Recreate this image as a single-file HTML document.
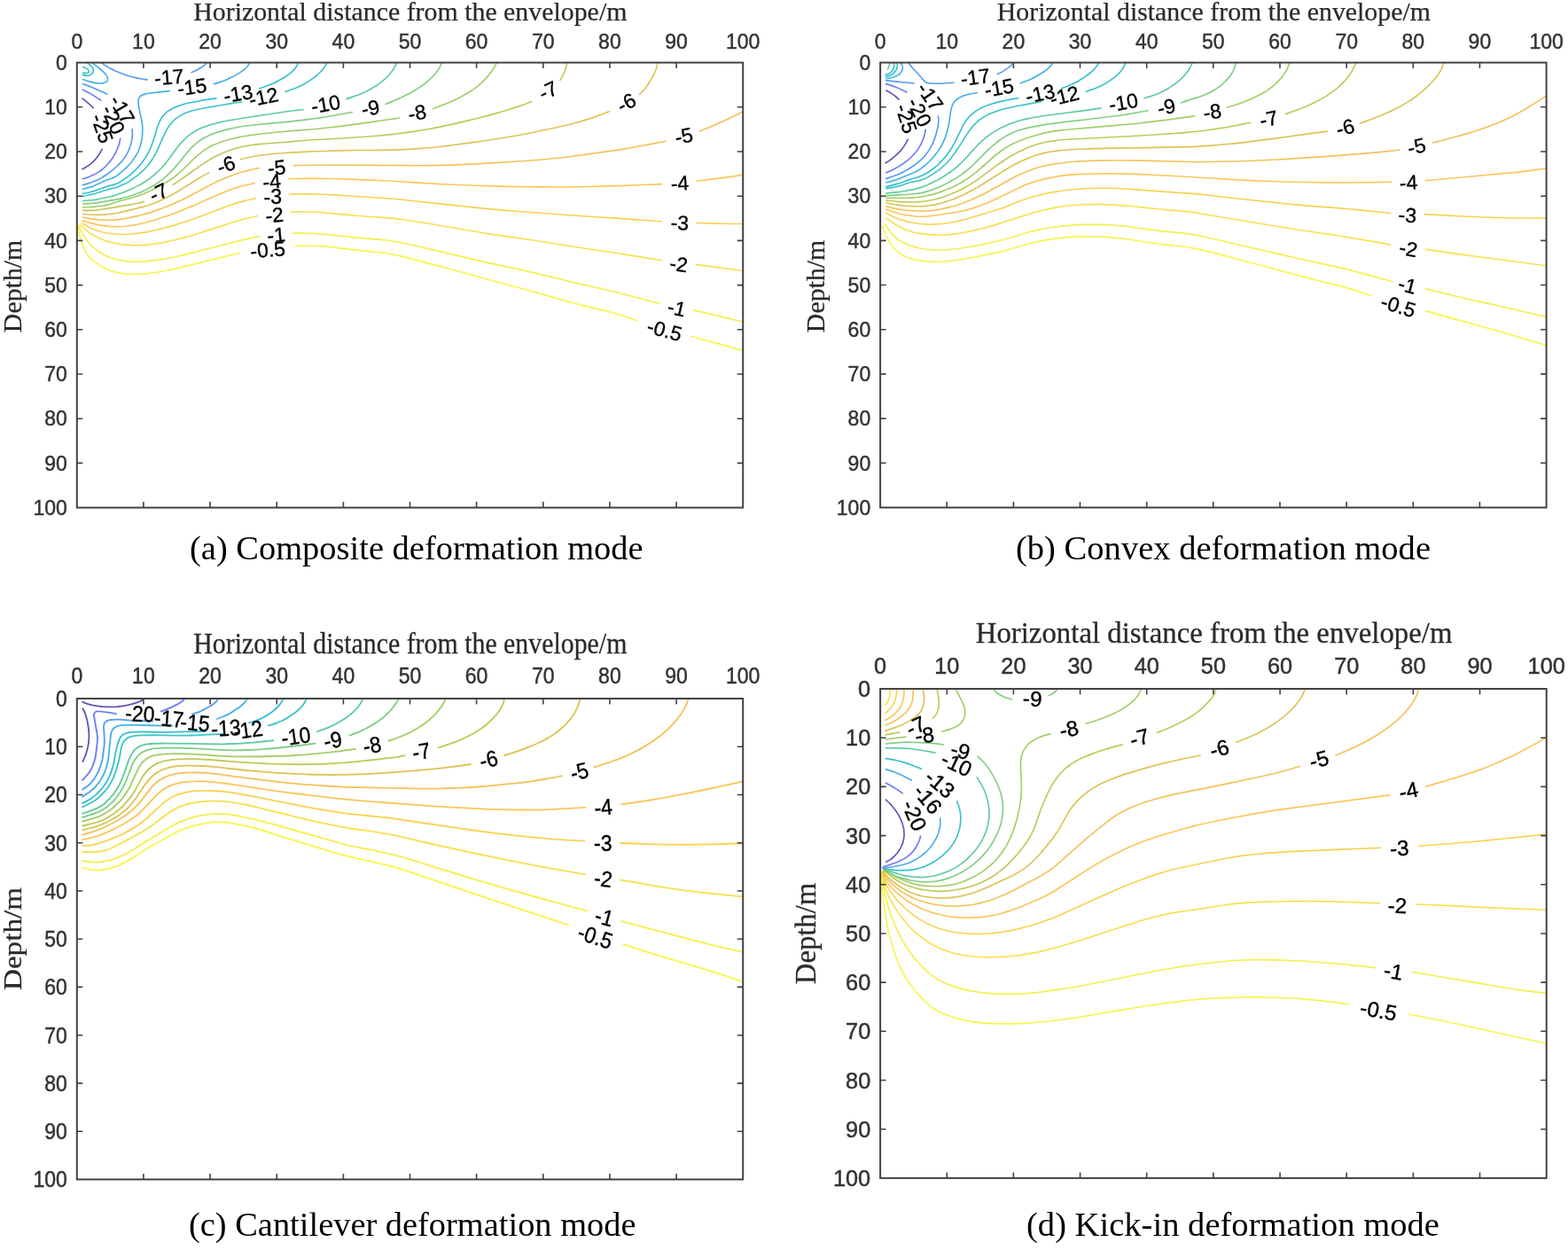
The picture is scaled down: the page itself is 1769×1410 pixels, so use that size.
<!DOCTYPE html>
<html lang="en"><head><meta charset="utf-8"><title>Ground settlement contours for four deformation modes</title>
<style>html,body{margin:0;padding:0;background:#fff}body{width:1769px;height:1410px;overflow:hidden}svg{display:block}text{white-space:pre}</style>
</head><body>
<svg xmlns="http://www.w3.org/2000/svg" width="1769" height="1410" viewBox="0 0 1769 1410">
<rect width="1769" height="1410" fill="#fff"/>
<clipPath id="clip-a"><rect x="86.8" y="70.6" width="751.4" height="502"/></clipPath>
<g clip-path="url(#clip-a)" fill="none" stroke-opacity="0.88" stroke-width="1.65" stroke-linecap="round" stroke-linejoin="round">
<path d="M92.9 111.2C93.8 111.9 96.3 113.7 98.4 115.4C100.4 117.2 104.2 120.7 105.4 121.8" stroke="#4b3cae"/>
<path d="M115.1 168.4C114.7 169.1 113.7 171.1 112.9 172.3C112.2 173.6 111.7 174.5 110.6 176C109.5 177.4 107.8 179.6 106.6 180.9C105.4 182.2 104.6 182.9 103.5 183.8C102.5 184.8 101.4 185.6 100.2 186.4C99 187.3 97.8 188 96.6 188.7C95.4 189.5 93.5 190.5 92.9 190.8" stroke="#4b3cae"/>
<path d="M93.4 101.1C95 101.9 99.5 104.1 102.9 106.1C106.3 108.1 111.9 111.9 113.7 113" stroke="#5a6af0"/>
<path d="M135.7 156C135.6 156.4 135.6 157.2 135.3 158.3C135.1 159.5 134.7 161.5 134.2 163C133.8 164.5 133.3 165.9 132.7 167.3C132.1 168.8 131.5 170.2 130.8 171.6C130.2 172.9 129.4 174.3 128.6 175.6C127.9 176.9 127 178.2 126.1 179.5C125.2 180.7 124.3 182 123.3 183.1C122.4 184.3 121.6 185.2 120.4 186.5C119.1 187.8 116.9 189.8 115.6 190.9C114.2 192.1 113.3 192.6 112.2 193.4C111 194.2 109.8 194.9 108.6 195.6C107.4 196.3 106.2 197 104.9 197.6C103.7 198.2 103.1 198.5 101.2 199.2C99.2 199.9 94.7 201.4 93.4 201.8" stroke="#5a6af0"/>
<path d="M93.4 94.6C95.4 95.4 101 97.2 105.5 99.2C110 101.1 118.1 104.9 120.6 106.1" stroke="#3f8eee"/>
<path d="M149.1 145.7C149.1 146.4 149.4 148.2 149.4 149.9C149.4 151.6 149.2 154 149 156C148.7 158.1 148.2 160.4 147.8 162.1C147.4 163.7 147 164.7 146.6 166.1C146.1 167.4 145.6 168.7 145 170C144.4 171.3 143.8 172.5 143.1 173.8C142.4 175 141.9 175.9 140.8 177.4C139.7 178.9 138.2 180.9 136.8 182.6C135.3 184.3 133.7 185.9 132.1 187.5C130.5 189 129 190.2 127 191.8C125 193.4 122.2 195.5 120.1 197C118.1 198.4 116.3 199.5 114.8 200.4C113.3 201.3 112.7 201.6 111.2 202.4C109.7 203.1 107.5 204 105.6 204.8C103.7 205.5 101.8 206.2 99.7 206.9C97.7 207.5 94.5 208.4 93.4 208.7" stroke="#3f8eee"/>
<path d="M114.1 70.6C115 71.2 117.7 73.2 119.6 74.4C121.4 75.5 123.3 76.5 125.1 77.5C126.9 78.5 128.5 79.2 130.6 80.2C132.8 81.1 135.6 82.3 138.1 83.2C140.6 84.1 143.6 85.1 145.9 85.8C148.2 86.5 149.9 86.9 151.9 87.4C153.9 87.9 155.6 88.3 158 88.7C160.4 89.2 164.9 89.8 166.3 90" stroke="#3f8eee"/>
<path d="M216.1 81.7C217.1 81.3 220.1 80.1 222 79.1C223.9 78.1 226.4 76.5 227.7 75.7C228.9 74.9 228.9 74.9 229.5 74.4C230.1 73.9 230.7 73.4 231.3 72.9C231.9 72.3 232.8 71.2 233.1 70.9" stroke="#3f8eee"/>
<path d="M104 70.9C105.3 71.9 109.9 75.3 112.1 77C114.2 78.8 115.6 80.1 117 81.4C118.3 82.7 119.4 84.1 120.1 85.1C120.8 86.1 121.1 86.6 121.3 87.4C121.5 88.2 121.7 89.2 121.6 90C121.4 90.7 120.9 91.5 120.3 92.1C119.7 92.6 118.8 93 118 93.3C117.1 93.6 116.2 93.8 115.3 93.9C114.4 94 113.6 94 112.7 94C111.9 94 111.5 94.1 110.2 93.9C109 93.8 106.9 93.5 105.2 93.1C103.6 92.8 102.3 92.4 100.3 91.8C98.4 91.2 94.6 89.9 93.4 89.5" stroke="#2ba6e0"/>
<path d="M191.2 102.6C187.4 103 172.9 104.7 168.4 105.3C164 105.8 165.9 105.6 164.6 105.9C163.3 106.2 161.7 106.7 160.8 107.1C159.8 107.4 159.6 107.6 159 108C158.5 108.4 158.1 108.8 157.7 109.2C157.3 109.7 156.9 110.2 156.7 110.8C156.4 111.4 156.3 112 156.1 112.7C156 113.4 156 114.2 156 114.9C156 115.7 156 116.1 156.1 117.3C156.3 118.5 156.2 119.1 156.9 122.2C157.5 125.3 159.2 132.7 159.8 136C160.5 139.4 160.5 140.3 160.7 142.4C160.8 144.5 160.9 146.5 160.8 148.7C160.7 151 160.4 153.9 160.2 155.9C159.9 157.8 159.7 158.9 159.3 160.4C159 161.8 158.8 162.8 158.3 164.4C157.8 166.1 156.8 168.7 156.1 170.3C155.4 171.8 154.9 172.7 154.2 174C153.5 175.2 152.7 176.4 151.9 177.6C151.1 178.9 150.2 180.1 149.3 181.4C148.4 182.6 147.4 183.9 146.4 185C145.4 186.2 144.4 187.3 143.3 188.3C142.3 189.3 141.8 189.8 140.2 191.2C138.6 192.6 135.4 195.5 133.7 196.9C132 198.2 131.3 198.6 130.1 199.3C128.9 200 128.4 200.2 126.5 201C124.6 201.7 122.3 202.3 118.8 203.7C115.3 205.2 108.5 208.5 105.7 209.7C102.8 210.9 103.7 210.4 101.6 211.1C99.6 211.7 94.8 213 93.4 213.4" stroke="#2ba6e0"/>
<path d="M241.2 94.8C242.5 94.4 246.7 93.2 249 92.4C251.2 91.7 252.9 91 254.8 90.2C256.7 89.4 258.4 88.7 260.5 87.6C262.7 86.5 265.8 84.8 267.9 83.6C270.1 82.3 271.9 81.2 273.3 80.1C274.8 79.1 275.6 78.4 276.7 77.4C277.7 76.5 278.9 75.1 279.6 74.3C280.3 73.5 280.4 73.2 280.8 72.6C281.1 72 281.5 71.2 281.6 70.9" stroke="#2ba6e0"/>
<path d="M98.5 70.9C99.1 71.4 101.4 73.3 102.3 74.1C103.2 75 103.5 75.2 103.9 75.8C104.4 76.5 104.9 77.1 105.1 77.8C105.3 78.5 105.5 79.3 105.3 80.2C105.1 81.1 104.6 82.3 103.9 83.1C103.2 84 102.1 84.7 101.1 85.1C100.1 85.5 99.2 85.5 97.9 85.3C96.6 85.2 94.2 84.6 93.4 84.4" stroke="#1ab6cc"/>
<path d="M93.8 75.7C94.2 75.8 95.4 76 96.2 76.4C97 76.7 97.9 77 98.6 77.6C99.2 78.2 100 79.1 100.2 79.8C100.4 80.5 100 81.5 99.7 81.9C99.3 82.4 99 82.5 98 82.5C97 82.6 94.5 82.2 93.8 82.1" stroke="#22bdbb"/>
<path d="M93.4 218.4C94.8 218.1 99.5 217.1 101.6 216.7C103.6 216.2 104.3 216 105.7 215.6C107 215.2 107.4 215.2 109.8 214.3C112.1 213.5 116.8 211.5 119.9 210.6C122.9 209.6 126 209 128 208.4C130.1 207.8 130.8 207.5 132.1 206.9C133.5 206.3 134.5 205.8 136.2 204.8C137.8 203.8 140.1 202.3 142 200.9C143.9 199.6 145.8 198.1 147.5 196.6C149.3 195.1 151 193.5 152.7 191.9C154.3 190.3 156.1 188.3 157.4 186.8C158.6 185.4 159.1 184.8 160.2 183.3C161.4 181.8 163.1 179.3 164.2 177.7C165.2 176.2 165.7 175.2 166.5 173.9C167.2 172.5 167.8 171.6 168.6 169.8C169.3 168.1 170.4 165.7 171.2 163.6C172 161.5 172.3 160.7 173.4 157.1C174.6 153.6 176.8 145.7 178 142.3C179.2 138.8 179.7 137.9 180.4 136.4C181.2 134.8 182 133.6 182.5 132.8C183.1 131.9 183.1 131.9 183.7 131.1C184.4 130.3 185.5 129 186.5 128C187.5 127.1 188.5 126.2 189.6 125.4C190.7 124.6 191.6 124 193.1 123.2C194.7 122.3 197.2 121.2 198.8 120.5C200.4 119.8 201 119.6 202.7 119C204.4 118.5 206.7 117.8 208.7 117.2C210.8 116.7 212.5 116.3 214.9 115.8C217.3 115.3 218.4 115 223.2 114.2C228 113.3 240.4 111.4 243.8 110.9" stroke="#1ab6cc"/>
<path d="M292.8 99.8C294.2 99.3 298.5 97.8 301.3 96.8C304 95.7 307.1 94.4 309.4 93.4C311.7 92.4 313 91.7 315.1 90.5C317.3 89.3 320.3 87.5 322.3 86.2C324.4 84.9 326 83.7 327.4 82.6C328.7 81.6 329.7 80.6 330.4 79.9C331.2 79.2 331.2 79.2 331.9 78.4C332.5 77.5 333.8 75.9 334.4 75C335 74.1 335.2 73.7 335.5 73C335.8 72.3 336.2 71.2 336.3 70.9" stroke="#1ab6cc"/>
<path d="M93.4 221.2C94.8 221 99.1 220.2 101.5 219.7C103.9 219.2 104.6 219.2 107.7 218.3C110.7 217.3 116.2 215.3 119.9 214.2C123.7 213.1 127.8 212.3 130.2 211.7C132.7 211 132.7 210.9 134.4 210.3C136.1 209.6 138.5 208.5 140.4 207.6C142.4 206.6 144.2 205.5 146 204.4C147.8 203.3 149.5 202.2 151.1 200.9C152.8 199.7 154.5 198.5 156.1 197.2C157.7 195.8 159.3 194.4 160.8 192.9C162.4 191.5 163.9 189.9 165.4 188.3C166.8 186.6 168.4 184.6 169.5 183.1C170.6 181.7 171.2 180.8 172 179.5C172.8 178.3 173.3 177.4 174.2 175.7C175.1 174.1 175.7 173.2 177.3 169.8C178.9 166.4 182.1 158.7 183.7 155.3C185.2 151.9 185.7 150.9 186.5 149.3C187.3 147.7 187.9 146.8 188.6 145.5C189.3 144.3 190.1 143.1 190.9 141.9C191.7 140.7 192.6 139.6 193.5 138.6C194.5 137.5 195.4 136.5 196.5 135.5C197.5 134.6 198.6 133.7 199.7 132.9C200.8 132 202 131.3 203.2 130.6C204.4 129.9 205.3 129.4 206.9 128.6C208.4 127.9 211 126.9 212.6 126.3C214.3 125.7 214.9 125.5 216.6 125C218.3 124.6 219.6 124.1 222.6 123.5C225.7 122.8 226.6 122.5 235 121.1C243.4 119.6 266.6 115.8 272.9 114.8" stroke="#22bdbb"/>
<path d="M322 103.5C323.6 102.9 329.2 101.1 331.8 100.1C334.4 99.1 335.4 98.7 337.6 97.6C339.8 96.5 342.6 95.1 345 93.7C347.5 92.2 349.8 90.7 352.1 89.1C354.3 87.5 356.8 85.5 358.6 84C360.4 82.4 361.7 81.2 363 79.6C364.3 78.1 365.7 76.2 366.7 74.7C367.6 73.3 368.4 71.5 368.7 70.9" stroke="#22bdbb"/>
<path d="M93.4 226.7C95.1 226.6 100.8 226.1 103.5 225.8C106.3 225.5 106.3 225.6 109.9 224.9C113.4 224.2 121.4 222.4 125 221.6C128.6 220.7 129 220.6 131.5 219.8C134 219 137.2 217.9 140 216.8C142.8 215.7 145.6 214.5 148.2 213.3C150.9 212 153.8 210.6 156 209.4C158.2 208.2 159.4 207.5 161.5 206.2C163.6 204.9 166.4 203 168.4 201.6C170.4 200.2 171.7 199.1 173.3 197.8C174.9 196.4 176.5 195.1 178 193.7C179.5 192.2 181.2 190.5 182.4 189.2C183.6 187.9 184.1 187.4 185.3 186C186.4 184.6 186.7 184.5 189.3 181C192 177.4 198.7 168.1 201.2 164.8C203.6 161.6 202.8 162.8 204.1 161.4C205.3 160 207.4 157.9 208.7 156.6C210 155.3 210.5 154.8 212 153.7C213.4 152.5 215.4 151 217.3 149.8C219.1 148.6 221 147.5 222.9 146.5C224.8 145.5 226.8 144.7 228.8 143.8C230.8 143 232.8 142.2 234.9 141.5C236.9 140.9 238.6 140.3 241 139.7C243.4 139 246.5 138.2 249.3 137.6C252 137 253.4 136.7 257.5 136C261.7 135.3 264.3 134.8 274.2 133.3C284.1 131.8 307.2 128.3 317.1 126.8C327 125.4 329.5 125 333.7 124.5C337.8 124 340.5 123.8 341.9 123.7" stroke="#46c590"/>
<path d="M391 111.6C392.6 111.1 397.5 109.5 400.7 108.3C403.9 107.1 407.8 105.5 410.3 104.4C412.9 103.2 414.4 102.4 416 101.6C417.6 100.8 417.9 100.7 419.7 99.5C421.6 98.4 424.6 96.6 426.9 95C429.2 93.3 432 91 433.6 89.6C435.2 88.3 435.7 87.7 436.7 86.7C437.7 85.7 438.7 84.6 439.7 83.5C440.6 82.5 441.5 81.3 442.4 80.2C443.2 79 443.9 78.2 444.7 76.6C445.6 75.1 447.1 71.9 447.6 70.9" stroke="#46c590"/>
<path d="M93.4 230C95.1 229.9 100.7 229.6 103.4 229.4C106.2 229.1 105.5 229.3 109.8 228.6C114.1 228 124.6 226.2 129.3 225.4C134 224.5 135.2 224.2 138.1 223.5C140.9 222.8 143.8 222.1 146.6 221.2C149.3 220.3 152.4 219.2 154.8 218.3C157.2 217.4 158.6 216.8 160.9 215.7C163.2 214.7 166.4 213 168.7 211.8C170.9 210.7 172.2 209.9 174.3 208.6C176.4 207.3 179.3 205.3 181.3 203.9C183.3 202.4 184.6 201.3 186.2 200C187.8 198.6 188.9 197.8 190.8 195.8C192.8 193.8 194.3 192.5 198.1 188.1C201.8 183.8 210 173.5 213.3 169.6C216.6 165.8 216.5 166.2 217.8 164.9C219.1 163.7 219.6 163.2 221 162.1C222.3 161 224.2 159.4 225.9 158.2C227.6 157.1 229.3 156 231.1 155C232.9 154 234.7 153.2 236.5 152.4C238.3 151.6 239.8 151 242 150.3C244.2 149.5 246.7 148.7 249.6 147.9C252.5 147.1 256.3 146.1 259.3 145.4C262.2 144.7 264.6 144.2 267.3 143.7C270 143.1 272.1 142.7 275.5 142.3C279 141.8 279.5 141.6 288.1 140.7C296.8 139.8 318 138 327.7 137.1C337.4 136.1 339.2 135.8 346.4 134.9C353.6 133.9 362.6 132.7 371.1 131.3C379.6 129.9 392.9 127.3 397.3 126.5" stroke="#70c871"/>
<path d="M435.2 117.5C437.5 116.5 444.9 113.5 448.8 111.8C452.7 110 455.4 108.7 458.7 107C461.9 105.3 465.7 103.2 468.3 101.8C470.8 100.3 472.2 99.3 473.7 98.4C475.2 97.4 475.7 97 477.1 95.9C478.5 94.9 480.7 93.2 482 92.1C483.4 91 483.6 90.8 485.1 89.4C486.6 88 489.4 85 490.8 83.5C492.1 82 492.5 81.4 493.3 80.3C494.1 79.2 494.7 78.4 495.6 76.8C496.5 75.2 498.1 71.9 498.6 70.9" stroke="#70c871"/>
<path d="M93.4 233.7C94.7 233.7 99 233.6 101.4 233.5C103.7 233.4 105.1 233.4 107.6 233.1C110.1 232.9 113.9 232.4 116.3 232.1C118.8 231.7 119.7 231.7 122.5 230.9C125.4 230.1 129.6 228.4 133.5 227.3C137.4 226.1 142.3 225 145.7 224C149.1 223.1 151.2 222.4 154 221.5C156.7 220.6 159.4 219.5 162 218.5C164.7 217.4 167.4 216.2 170 215C172.6 213.8 175.2 212.5 177.7 211.2C180.2 209.8 182.7 208.5 185.1 207.1C187.5 205.7 190.2 204 192.2 202.7C194.2 201.4 195.8 200.2 197.2 199.1C198.6 198.1 199.1 197.6 200.5 196.5C201.8 195.4 202.3 195 205.2 192.3C208.1 189.5 214.9 182.8 217.9 179.9C220.8 177.1 221.1 176.9 222.8 175.5C224.4 174 226.4 172.4 227.8 171.3C229.3 170.2 229.8 169.8 231.3 168.8C232.8 167.9 234.9 166.6 236.8 165.5C238.7 164.5 240.6 163.6 242.5 162.8C244.5 161.9 246.4 161.2 248.5 160.4C250.5 159.7 252.5 159.1 254.6 158.5C256.7 157.9 258.4 157.4 260.9 156.8C263.4 156.2 266.6 155.5 269.5 154.9C272.3 154.3 274.9 153.8 278.2 153.3C281.4 152.8 283.7 152.3 289.1 151.7C294.6 151 300 150.2 310.8 149.2C321.6 148.2 342.8 146.7 353.8 145.7C364.8 144.7 370 144.1 376.7 143.3C383.4 142.5 383.1 142.6 394 141.1C405 139.6 433 135.7 442.3 134.3C451.7 132.9 448.9 132.9 450.2 132.6" stroke="#95c753"/>
<path d="M488.8 122.4C491.1 121.5 498.4 118.9 502.7 117.2C507 115.5 511.6 113.4 514.5 112C517.5 110.7 518.4 110.1 520.3 109.1C522.2 108.1 524.1 107.1 526 106C527.9 104.9 530 103.5 531.5 102.5C533 101.6 533.6 101.2 535.1 100.1C536.5 99 538.8 97.2 540.2 96.1C541.5 94.9 542.1 94.4 543.4 93.2C544.7 92 546.7 90 548 88.7C549.2 87.4 549.9 86.5 550.9 85.4C551.8 84.3 552.7 83.2 553.5 82.1C554.4 80.9 554.9 80.4 556 78.5C557.1 76.7 559.6 72.2 560.3 70.9" stroke="#95c753"/>
<path d="M93.4 237.3C95 237.3 100.2 237.5 103.2 237.4C106.2 237.3 104.2 237.8 111.5 236.7C118.7 235.6 139.4 232.2 146.7 230.9C154.1 229.7 152.7 229.8 155.3 229.2C157.9 228.7 161.1 227.9 162.3 227.6" stroke="#b6c241"/>
<path d="M195.2 208.4C196.4 207.6 197.1 207.4 202.5 203.6C207.9 199.9 222.1 189.6 227.5 185.9C232.9 182.2 232.6 182.6 234.7 181.3C236.8 179.9 238.1 179.2 240.2 178C242.4 176.9 245.2 175.4 247.7 174.2C250.2 173 252.7 171.9 255.3 170.9C257.8 169.9 260.3 169 262.9 168.2C265.4 167.4 268.3 166.6 270.6 166.1C272.9 165.5 274.6 165.2 276.6 164.8C278.6 164.5 279.6 164.3 282.8 163.8C285.9 163.4 288.8 163 295.5 162.4C302.2 161.8 314.1 161.1 323.1 160.3C332 159.6 337.9 158.7 349 158C360.1 157.2 377.2 156.5 389.9 155.7C402.6 154.9 415.7 154 425.3 153.2C434.9 152.4 440 151.8 447.5 151C454.9 150.1 463.8 148.8 469.9 147.9C476 147 478.7 146.5 484.1 145.5C489.4 144.5 495.4 143.3 502.1 141.9C508.8 140.4 517.4 138.5 524.2 136.9C530.9 135.4 536.6 134 542.3 132.5C548.1 131 553.6 129.5 558.6 128.1C563.7 126.7 568.1 125.4 572.7 124C577.4 122.6 582 121 586.6 119.5C591.1 117.9 597.8 115.3 600 114.5" stroke="#b6c241"/>
<path d="M631.8 90.6C632.4 89.6 634.2 86.5 635.3 84.4C636.3 82.3 637.4 79.3 638 77.9C638.6 76.4 638.5 76.8 638.8 75.6C639.1 74.5 639.6 71.7 639.8 70.9" stroke="#b6c241"/>
<path d="M93.4 241.5C95.1 241.6 100.7 242.1 103.4 242.2C106.1 242.3 107.2 242.4 109.5 242.3C111.9 242.3 115 242.3 117.7 242.1C120.5 242 123.3 241.7 126.1 241.3C128.8 241 129.9 240.8 134.3 239.8C138.7 238.9 148.1 236.7 152.5 235.6C156.8 234.6 158.2 234.2 160.5 233.6C162.9 232.9 164.6 232.4 166.6 231.8C168.6 231.1 170.7 230.4 172.7 229.7C174.7 228.9 176.7 228.1 178.6 227.3C180.6 226.4 182.2 225.7 184.4 224.6C186.6 223.6 189.1 222.3 191.8 220.9C194.6 219.4 195.5 219 200.9 215.7C206.2 212.4 218.4 204.8 224.2 201.3C230 197.7 233.8 195.7 235.7 194.6" stroke="#d6bc3c"/>
<path d="M271.5 179.8C273.5 179.3 280 177.7 283.8 177C287.5 176.2 290.2 175.8 293.9 175.2C297.7 174.7 302.2 174.1 306.4 173.7C310.5 173.3 312.1 173.1 318.9 172.7C325.7 172.2 338.3 171.5 347.2 171.1C356.1 170.7 363.3 170.4 372.2 170.2C381 169.9 389.7 169.7 400.3 169.5C410.9 169.4 426.6 169.5 435.5 169.4C444.4 169.2 448.4 169 453.9 168.8C459.4 168.5 463.6 168.3 468.5 167.9C473.4 167.6 478.7 167.2 483.2 166.8C487.8 166.4 491.2 166 495.7 165.5C500.2 165 501.6 164.9 510.2 163.8C518.8 162.6 537 160.2 547.3 158.7C557.6 157.2 564.2 156.2 572 154.8C579.9 153.5 585.7 152.4 594.4 150.7C603.1 149 616.3 146.2 624.3 144.5C632.2 142.8 636.9 141.8 642.2 140.5C647.5 139.2 651.3 138.2 655.9 136.8C660.5 135.5 664.4 134.2 669.7 132.4C674.9 130.5 684.4 126.9 687.4 125.8" stroke="#d6bc3c"/>
<path d="M721.5 106.5C722.2 105.7 724.7 103.2 725.9 101.9C727.1 100.6 727.8 99.8 728.7 98.7C729.5 97.6 730 97 731.2 95.2C732.3 93.4 734.5 89.6 735.6 87.8C736.7 85.9 737.1 85.2 737.7 83.9C738.4 82.6 739 81.2 739.5 79.8C740.1 78.4 740.6 77 741 75.5C741.3 74 741.7 71.7 741.9 70.9" stroke="#d6bc3c"/>
<path d="M93.4 245.2C95.1 245.5 100.4 246.4 103.4 246.9C106.4 247.3 108.8 247.6 111.6 247.8C114.3 248.1 117.1 248.2 119.8 248.3C122.6 248.4 125.3 248.3 128 248.2C130.7 248 133.4 247.8 136.1 247.4C138.8 247 141.3 246.6 144.4 246C147.6 245.4 151.5 244.5 155 243.6C158.6 242.8 162.4 241.7 165.5 240.9C168.6 240 170.9 239.3 173.6 238.4C176.3 237.5 178.9 236.5 181.6 235.5C184.3 234.5 187 233.5 189.7 232.4C192.4 231.2 194.1 230.6 197.7 228.9C201.3 227.2 204.4 225.9 211.2 222.4C218 218.9 232.4 211.2 238.5 208C244.6 204.9 245 204.9 247.8 203.6C250.7 202.3 252.6 201.5 255.6 200.3C258.6 199.1 262.2 197.7 265.6 196.5C269 195.4 273.1 194.1 275.8 193.3C278.6 192.5 279.3 192.3 282.1 191.6C284.9 191 290.9 189.9 292.7 189.5" stroke="#f0b942"/>
<path d="M331.4 186.6C338 186.5 347.3 186.2 370.9 186.2C394.4 186.3 453 186.6 472.7 186.7C492.5 186.7 483.6 186.7 489.5 186.6C495.4 186.5 501.6 186.3 508.1 186.1C514.6 185.9 518.4 185.9 528.7 185.4C539.1 184.8 558.3 183.7 570 183C581.7 182.3 591.3 181.6 598.9 181C606.5 180.5 609.9 180.2 615.4 179.7C620.9 179.2 626.1 178.7 631.9 178C637.8 177.3 642.2 176.8 650.5 175.7C658.8 174.6 672.3 172.8 681.7 171.4C691 170.1 699.3 168.8 706.5 167.6C713.7 166.4 717.5 165.7 724.9 164.3C732.3 162.9 746.7 160.1 751 159.2" stroke="#f0b942"/>
<path d="M789.6 148.1C791.6 147.3 798 144.7 801.7 143.1C805.5 141.5 807.9 140.4 811.9 138.6C816 136.8 821.4 134.3 826 132.1C830.6 129.9 837.3 126.5 839.5 125.4" stroke="#f0b942"/>
<path d="M92.9 248.9C94.7 249.4 100.7 251.1 103.5 251.9C106.4 252.7 107.9 253 110.1 253.4C112.3 253.9 114.3 254.3 116.9 254.6C119.6 255 123.4 255.4 126 255.6C128.6 255.7 130.2 255.8 132.7 255.7C135.3 255.6 138.4 255.4 141.2 255.2C144.1 254.9 146.8 254.5 149.6 254.1C152.4 253.6 155.1 253.1 157.9 252.5C160.6 251.9 163 251.3 166.1 250.5C169.2 249.6 172.7 248.7 176.4 247.5C180.1 246.4 184.9 244.8 188.6 243.5C192.3 242.3 194.2 241.6 198.5 240C202.8 238.3 206 237.1 214.3 233.6C222.6 230 240.1 222.1 248.1 218.8C256 215.4 257.9 214.8 261.9 213.3C265.9 211.9 267.9 211.2 272.1 210.1C276.3 208.9 284.7 207.1 287.2 206.5" stroke="#f9be42"/>
<path d="M325.8 201.8C328.5 201.7 336.7 201.5 341.8 201.4C346.8 201.3 350.9 201.3 356.1 201.3C361.2 201.3 366.7 201.4 372.7 201.5C378.6 201.6 382.1 201.7 391.9 202.1C401.7 202.4 416.6 203 431.4 203.8C446.3 204.5 467.6 206 480.8 206.8C493.9 207.5 497.7 207.7 510.2 208.3C522.6 208.8 541.8 209.5 555.6 209.9C569.3 210.4 580.7 210.6 592.7 210.8C604.7 210.9 615.7 211 627.8 211C639.8 210.9 652.2 210.8 665 210.5C677.8 210.2 691.1 209.8 704.7 209.4C718.3 208.9 739.5 207.9 746.5 207.6" stroke="#f9be42"/>
<path d="M786.2 204.2C791 203.6 806 201.8 814.9 200.6C823.8 199.4 835.4 197.7 839.5 197.1" stroke="#f9be42"/>
<path d="M92.5 252.1C93.9 252.8 98.4 255.3 100.8 256.4C103.2 257.6 104.5 258.1 106.9 259C109.2 259.9 112.5 261 115 261.7C117.4 262.3 118.9 262.6 121.4 263C123.9 263.4 127.3 263.8 130.2 264C133.1 264.2 135.9 264.3 138.7 264.3C141.5 264.3 143.9 264.3 147 264C150.2 263.8 154.3 263.3 157.4 262.9C160.5 262.5 162.5 262.2 165.6 261.6C168.6 261 172.4 260.3 175.8 259.5C179.2 258.7 182.7 257.9 186.1 257C189.5 256.1 192.6 255.2 196.3 254.1C200 253 204.4 251.6 208.4 250.3C212.5 249 213.5 248.8 220.6 246.2C227.7 243.6 244 237.3 251.1 234.6C258.2 231.9 259.2 231.6 263.3 230.3C267.4 228.9 271.5 227.7 275.7 226.6C279.9 225.4 286.4 224.1 288.5 223.6" stroke="#f8cc3b"/>
<path d="M326.4 219.3C327.8 219.2 332.1 219 334.9 218.9C337.7 218.8 338.6 218.8 343.1 218.8C347.6 218.9 356.3 219 361.8 219.2C367.4 219.4 364.6 219.2 376.5 219.9C388.4 220.7 419.9 222.6 433.2 223.5C446.4 224.4 440.1 223.9 456 225.5C471.9 227.2 510.1 231.5 528.7 233.4C547.4 235.4 548.3 235.5 567.9 237.1C587.6 238.7 624.6 241.5 646.4 243C668.1 244.6 681.9 245.3 698.6 246.4C715.2 247.6 738.5 249.2 746.5 249.8" stroke="#f8cc3b"/>
<path d="M786.2 251.4C791 251.5 806 252.1 814.9 252.2C823.8 252.4 835.4 252.5 839.5 252.5" stroke="#f8cc3b"/>
<path d="M90.1 253.5C91.2 254.5 95.1 258 96.8 259.4C98.5 260.8 99.1 261.2 100.2 262.1C101.4 262.9 102.6 263.7 103.8 264.5C105 265.3 106.3 266 107.6 266.6C108.8 267.3 109.4 267.7 111.4 268.5C113.4 269.3 117.4 270.9 119.4 271.6C121.4 272.3 121.7 272.4 123.4 272.9C125 273.3 127.6 274 129.2 274.3C130.9 274.7 131.6 274.8 133.2 275.1C134.9 275.4 136.6 275.7 139.3 276C142 276.2 146.1 276.6 149.6 276.7C153 276.8 156.9 276.7 159.9 276.6C163 276.4 165.1 276.2 168.2 275.9C171.3 275.6 175 275.1 178.4 274.5C181.8 274 184.9 273.4 188.7 272.6C192.4 271.8 197.2 270.7 201 269.8C204.7 268.9 207.4 268.1 211.2 267.1C214.9 266.1 215.6 266 223.3 263.5C230.9 261.1 249.7 254.9 257 252.6C264.3 250.2 263.8 250.4 267.2 249.4C270.6 248.4 273.7 247.5 277.6 246.5C281.4 245.6 288.2 244 290.3 243.5" stroke="#f5dd36"/>
<path d="M328.2 239.2C329.6 239.2 334 239 336.8 238.9C339.7 238.9 340.8 238.8 345.4 239C350 239.1 354.2 239.1 364.2 239.8C374.2 240.6 393.6 242.5 405.5 243.5C417.4 244.5 427.8 245 435.4 245.6C443.1 246.2 446.3 246.7 451.3 247.3C456.3 247.9 458.6 248.3 465.2 249.3C471.9 250.4 480.4 251.6 491.3 253.5C502.2 255.3 520.9 258.7 530.8 260.3C540.7 262 538.5 261.8 550.5 263.6C562.6 265.4 585.7 268.6 603 271.3C620.4 273.9 639.4 277.1 654.6 279.5C669.9 281.8 679.1 282.9 694.4 285.3C709.7 287.7 737.8 292.4 746.5 293.8" stroke="#f5dd36"/>
<path d="M785.1 298.4L839.5 305.6" stroke="#f5dd36"/>
<path d="M88.8 254.9C89.3 255.9 90.9 259.3 91.7 260.9C92.6 262.6 93.1 263.5 93.8 264.8C94.6 266 95.3 267.2 96.1 268.4C96.9 269.6 97.5 270.5 98.6 271.8C99.7 273.2 101.5 275.3 102.7 276.6C103.9 277.9 104.6 278.6 105.7 279.5C106.7 280.4 107.7 281.3 108.8 282.1C109.9 283 111 283.8 112.2 284.5C113.4 285.3 114.6 286 115.8 286.6C117 287.3 118.2 287.9 119.5 288.5C120.8 289.1 121.7 289.5 123.3 290.1C124.9 290.6 127.5 291.5 129.1 292C130.8 292.4 131.5 292.6 133.2 293C134.9 293.3 137.2 293.8 139.3 294.1C141.3 294.4 143.7 294.6 145.4 294.8C147.2 295 147.5 295.1 149.6 295.1C151.7 295.2 154.8 295.3 157.9 295.2C161 295 164.4 294.8 168.2 294.4C171.9 294 176.4 293.5 180.5 292.9C184.6 292.2 189 291.4 192.8 290.7C196.5 290 199.3 289.4 203 288.5C206.8 287.7 204 288.5 215.3 285.6C226.6 282.8 257.9 274.6 270.8 271.4C283.7 268.2 289.1 267.3 292.8 266.5" stroke="#f4ec33"/>
<path d="M330.7 263.2C332.1 263.2 336.7 263 339.1 262.9C341.6 262.9 342.6 262.9 345.4 263C348.2 263 352.3 263.2 355.8 263.4C359.3 263.6 358 263.4 366.2 264.2C374.5 265 394.3 267.3 405.5 268.4C416.7 269.5 427.4 270.2 433.4 270.8C439.4 271.3 438.4 271.3 441.4 271.8C444.4 272.2 447.7 272.8 451.3 273.5C454.9 274.2 456.2 274.4 463.2 276C470.2 277.6 480 279.8 493.3 282.9C506.5 286 524.5 290.4 542.6 294.6C560.7 298.7 584.8 303.6 601.9 307.6C619 311.5 630.4 314.6 645.3 318.1C660.2 321.7 674.9 324.6 691.4 328.7C707.9 332.8 735.4 340.2 744.2 342.5" stroke="#f4ec33"/>
<path d="M782.8 349.9L839.5 363.3" stroke="#f4ec33"/>
<path d="M87.8 255.8C88.3 257.9 89.7 265.1 90.7 268.6C91.6 272.1 92.6 274.8 93.3 276.8C94 278.8 94.3 279.4 94.9 280.6C95.5 281.9 96.1 283.2 96.8 284.4C97.5 285.6 98.5 287.1 99.1 287.9C99.7 288.8 99.7 288.8 100.4 289.6C101.1 290.4 102.1 291.5 103.4 292.6C104.7 293.7 106.6 295.1 108.3 296.4C110 297.6 111.9 298.8 113.7 299.9C115.6 301 117.7 302.2 119.3 303C120.8 303.8 121.8 304.2 123.1 304.7C124.3 305.2 125.6 305.7 126.9 306.1C128.2 306.5 129.2 306.8 130.8 307.1C132.5 307.5 135.1 308 136.7 308.2C138.4 308.5 139 308.6 140.7 308.8C142.3 308.9 144 309.2 146.7 309.3C149.4 309.4 153.4 309.4 156.8 309.3C160.2 309.2 163.2 309 167 308.5C170.8 308.1 175.6 307.4 179.4 306.8C183.2 306.1 186.4 305.5 189.8 304.8C193.1 304.1 186.2 305.9 199.8 302.6C213.3 299.3 259.1 288.1 271 285.2" stroke="#f6f530"/>
<path d="M333.2 277.3C334.9 277.3 340.5 277.2 343.7 277.2C346.8 277.2 348.8 277.2 352 277.3C355.1 277.4 358.8 277.6 362.3 277.8C365.7 278 365.3 277.8 372.6 278.6C379.9 279.4 396.3 281.5 406 282.6C415.7 283.6 425.2 284.4 430.7 285C436.2 285.7 435.9 285.7 438.9 286.2C442 286.8 444.9 287.3 448.9 288.2C452.9 289.1 452.6 288.9 462.9 291.6C473.3 294.3 494.5 299.9 511.1 304.3C527.6 308.8 548.2 314.6 562.4 318.5C576.5 322.3 582.8 323.8 595.9 327.5C609 331.1 630.9 337.5 641 340.3C651.2 343.1 648.8 342.4 656.8 344.4C664.7 346.3 681 350.1 688.7 352.1C696.4 354.1 697.8 354.7 702.9 356.3C708 357.9 716.5 360.9 719.2 361.8" stroke="#f6f530"/>
<path d="M780 379.5C785 380.8 800.4 384.9 810.2 387.6C819.9 390.2 833.8 394.2 838.5 395.5" stroke="#f6f530"/>
</g>
<g class="clab" font-family="'Liberation Sans', Arial, Helvetica, sans-serif" font-size="23" fill="#000" stroke="#000" stroke-width="0.35" text-anchor="middle">
<text transform="translate(190.7 86.8) rotate(-5) scale(1 1)" dy="0.36em">-17</text>
<text transform="translate(216.5 97.8) rotate(-8) scale(1 1)" dy="0.36em">-15</text>
<text transform="translate(268.6 105.4) rotate(-10) scale(1 1)" dy="0.36em">-13</text>
<text transform="translate(297.2 109.1) rotate(-12) scale(1 1)" dy="0.36em">-12</text>
<text transform="translate(367.4 117.2) rotate(-10) scale(1 1)" dy="0.36em">-10</text>
<text transform="translate(417.8 121.6) rotate(-10) scale(1 1)" dy="0.36em">-9</text>
<text transform="translate(470.6 127) rotate(-10) scale(1 1)" dy="0.36em">-8</text>
<text transform="translate(618.2 102) rotate(-25) scale(1 1)" dy="0.36em">-7</text>
<text transform="translate(706.7 115.6) rotate(-28) scale(1 1)" dy="0.36em">-6</text>
<text transform="translate(771.4 153.1) rotate(-12) scale(1 1)" dy="0.36em">-5</text>
<text transform="translate(766.9 206.4) rotate(-3) scale(1 1)" dy="0.36em">-4</text>
<text transform="translate(766.9 251.1) rotate(2) scale(1 1)" dy="0.36em">-3</text>
<text transform="translate(765.8 297.7) rotate(8) scale(1 1)" dy="0.36em">-2</text>
<text transform="translate(763.5 347.2) rotate(13) scale(1 1)" dy="0.36em">-1</text>
<text transform="translate(749.9 372.1) rotate(15) scale(1 1)" dy="0.36em">-0.5</text>
<text transform="translate(254.9 185.6) rotate(-20) scale(1 1)" dy="0.36em">-6</text>
<text transform="translate(312.1 188.7) rotate(-5) scale(1 1)" dy="0.36em">-5</text>
<text transform="translate(306.5 204.3) rotate(-5) scale(1 1)" dy="0.36em">-4</text>
<text transform="translate(307.7 221.7) rotate(0) scale(1 1)" dy="0.36em">-3</text>
<text transform="translate(309.6 242.3) rotate(-5) scale(1 1)" dy="0.36em">-2</text>
<text transform="translate(311.5 264.7) rotate(-5) scale(1 1)" dy="0.36em">-1</text>
<text transform="translate(302.1 281.5) rotate(-5) scale(1 1)" dy="0.36em">-0.5</text>
<text transform="translate(178.8 217) rotate(-25) scale(1 1)" dy="0.36em">-7</text>
<text transform="translate(138.1 123.6) rotate(60) scale(1 1)" dy="0.36em">-17</text>
<text transform="translate(128 134.7) rotate(65) scale(1 1)" dy="0.36em">-20</text>
<text transform="translate(115.5 144.9) rotate(70) scale(1 1)" dy="0.36em">-25</text>
</g>
<g class="plot" id="plot-a">
<rect x="86.8" y="70.6" width="751.4" height="502" fill="none" stroke="#424242" stroke-width="2"/>
<path d="M161.9 70.6v6.5M161.9 572.6v-6.5M86.8 120.8h6.5M838.2 120.8h-6.5M237.1 70.6v6.5M237.1 572.6v-6.5M86.8 171h6.5M838.2 171h-6.5M312.2 70.6v6.5M312.2 572.6v-6.5M86.8 221.2h6.5M838.2 221.2h-6.5M387.4 70.6v6.5M387.4 572.6v-6.5M86.8 271.4h6.5M838.2 271.4h-6.5M462.5 70.6v6.5M462.5 572.6v-6.5M86.8 321.6h6.5M838.2 321.6h-6.5M537.6 70.6v6.5M537.6 572.6v-6.5M86.8 371.8h6.5M838.2 371.8h-6.5M612.8 70.6v6.5M612.8 572.6v-6.5M86.8 422h6.5M838.2 422h-6.5M687.9 70.6v6.5M687.9 572.6v-6.5M86.8 472.2h6.5M838.2 472.2h-6.5M763.1 70.6v6.5M763.1 572.6v-6.5M86.8 522.4h6.5M838.2 522.4h-6.5" stroke="#424242" stroke-width="1.6" fill="none"/>
<g class="tick" font-family="'Liberation Sans', Arial, Helvetica, sans-serif" font-size="23" fill="#333333" stroke="#333333" stroke-width="0.45">
<text transform="translate(86.8 55.1) scale(1 1)" text-anchor="middle">0</text>
<text transform="translate(161.9 55.1) scale(1 1)" text-anchor="middle">10</text>
<text transform="translate(237.1 55.1) scale(1 1)" text-anchor="middle">20</text>
<text transform="translate(312.2 55.1) scale(1 1)" text-anchor="middle">30</text>
<text transform="translate(387.4 55.1) scale(1 1)" text-anchor="middle">40</text>
<text transform="translate(462.5 55.1) scale(1 1)" text-anchor="middle">50</text>
<text transform="translate(537.6 55.1) scale(1 1)" text-anchor="middle">60</text>
<text transform="translate(612.8 55.1) scale(1 1)" text-anchor="middle">70</text>
<text transform="translate(687.9 55.1) scale(1 1)" text-anchor="middle">80</text>
<text transform="translate(763.1 55.1) scale(1 1)" text-anchor="middle">90</text>
<text transform="translate(838.2 55.1) scale(1 1)" text-anchor="middle">100</text>
<text transform="translate(75.9 78.8) scale(1 1)" text-anchor="end">0</text>
<text transform="translate(75.9 129) scale(1 1)" text-anchor="end">10</text>
<text transform="translate(75.9 179.2) scale(1 1)" text-anchor="end">20</text>
<text transform="translate(75.9 229.4) scale(1 1)" text-anchor="end">30</text>
<text transform="translate(75.9 279.6) scale(1 1)" text-anchor="end">40</text>
<text transform="translate(75.9 329.8) scale(1 1)" text-anchor="end">50</text>
<text transform="translate(75.9 380) scale(1 1)" text-anchor="end">60</text>
<text transform="translate(75.9 430.2) scale(1 1)" text-anchor="end">70</text>
<text transform="translate(75.9 480.4) scale(1 1)" text-anchor="end">80</text>
<text transform="translate(75.9 530.6) scale(1 1)" text-anchor="end">90</text>
<text transform="translate(75.9 580.8) scale(1 1)" text-anchor="end">100</text>
</g>
<text class="ttl" transform="translate(218.2 23.4) scale(1 1)" font-family="'Liberation Serif', 'Times New Roman', serif" font-size="29.8" fill="#2a2a2a" stroke="#2a2a2a" stroke-width="0.25" textLength="489.2" lengthAdjust="spacingAndGlyphs">Horizontal distance from the envelope/m</text>
<text class="ylab" transform="translate(23.6 322.9) rotate(-90) scale(1 1)" text-anchor="middle" font-family="'Liberation Serif', 'Times New Roman', serif" font-size="29.8" fill="#2a2a2a" stroke="#2a2a2a" stroke-width="0.25" textLength="104.5" lengthAdjust="spacingAndGlyphs">Depth/m</text>
<text class="cap" x="214" y="631" font-family="'Liberation Serif', 'Times New Roman', serif" font-size="38.3" fill="#000" textLength="511.6" lengthAdjust="spacingAndGlyphs">(a) Composite deformation mode</text>
</g>
<clipPath id="clip-b"><rect x="993.1" y="70.6" width="751.5" height="501.9"/></clipPath>
<g clip-path="url(#clip-b)" fill="none" stroke-opacity="0.88" stroke-width="1.65" stroke-linecap="round" stroke-linejoin="round">
<path d="M1003.5 71.1C1003.4 71.7 1003.4 73.5 1003 74.6C1002.7 75.8 1001.8 77.4 1001.6 78" stroke="#46c590"/>
<path d="M1008.1 71.1C1008.2 71.5 1008.8 72.8 1008.8 73.6C1008.9 74.4 1008.8 75.3 1008.6 76.1C1008.4 76.8 1008 77.5 1007.6 78.2C1007.3 78.8 1006.8 79.5 1006.4 80.1C1005.9 80.7 1005.4 81.3 1004.7 81.8C1004.1 82.4 1003.4 82.8 1002.5 83.2C1001.6 83.5 999.8 84 999.3 84.2" stroke="#22bdbb"/>
<path d="M1011.8 71.1C1011.9 71.6 1012.3 72.9 1012.3 73.8C1012.4 74.8 1012.2 75.8 1012 76.6C1011.7 77.5 1011.3 78.3 1010.9 79.1C1010.4 79.8 1009.9 80.5 1009.4 81.1C1008.8 81.8 1008.2 82.4 1007.6 82.9C1007 83.4 1006.4 84 1005.7 84.4C1005 84.8 1004.5 85.1 1003.4 85.4C1002.4 85.7 1000 86.2 999.3 86.3" stroke="#1ab6cc"/>
<path d="M1016.8 71.1C1017 71.5 1017.6 72.8 1017.8 73.7C1018.1 74.5 1018.3 75.3 1018.4 76.1C1018.4 77 1018.2 77.8 1018 78.6C1017.8 79.3 1017.5 80.1 1017.1 80.7C1016.7 81.4 1016.3 82.1 1015.7 82.6C1015.2 83.2 1014.6 83.8 1014 84.2C1013.3 84.7 1012.6 85.1 1011.9 85.5C1011.2 85.9 1010.8 86.1 1009.7 86.5C1008.5 86.9 1006.6 87.4 1005 87.7C1003.3 88.1 1000.7 88.5 999.8 88.6" stroke="#2ba6e0"/>
<path d="M1025.1 71.1C1025.8 72 1027.5 74.5 1029.3 76.5C1031.1 78.5 1033.6 80.9 1035.7 83.2C1037.8 85.5 1040.6 88.9 1041.9 90.3C1043.1 91.8 1042.9 91.4 1043.4 91.9C1043.9 92.3 1044.5 92.7 1045 93C1045.6 93.3 1046.2 93.5 1046.9 93.7C1047.5 93.9 1047.2 93.9 1048.9 94C1050.6 94.1 1054.3 94.2 1057 94.2C1059.8 94.2 1062.3 94.2 1065.5 94C1068.6 93.8 1074.2 93.3 1075.9 93.2" stroke="#3f8eee"/>
<path d="M1125.2 83.5C1125.8 83.2 1128 82.4 1128.9 81.9C1129.9 81.5 1129.6 81.7 1131 80.9C1132.3 80 1135.6 77.8 1136.9 76.9C1138.3 76 1138.3 75.9 1139 75.4C1139.7 74.8 1140.3 74.2 1141 73.6C1141.6 72.9 1142.4 71.8 1142.7 71.5" stroke="#3f8eee"/>
<path d="M999.8 90.9C1002.2 91.2 1009.2 91.9 1014.4 92.4C1019.6 92.9 1028.3 93.7 1031.1 93.9" stroke="#3f8eee"/>
<path d="M1058.3 131C1058.4 131.4 1058.6 132.6 1058.8 133.4C1058.9 134.2 1059 134.6 1058.9 135.8C1058.9 136.9 1058.8 138.3 1058.6 140.1C1058.3 141.8 1058 143.9 1057.4 146.3C1056.8 148.7 1055.9 152.1 1055.1 154.4C1054.4 156.8 1053.7 158.4 1052.9 160.4C1052 162.4 1050.9 164.6 1050 166.2C1049.2 167.8 1048.8 168.5 1047.8 169.9C1046.8 171.4 1045.4 173.4 1044 175.1C1042.7 176.7 1041.3 178.2 1039.8 179.6C1038.2 181.1 1036.6 182.5 1034.9 183.8C1033.2 185.2 1031.4 186.5 1029.5 187.7C1027.7 189 1025.4 190.4 1023.8 191.4C1022.2 192.3 1021.6 192.7 1020 193.5C1018.4 194.3 1016.3 195.3 1014.4 196.2C1012.5 197 1010.9 197.6 1008.5 198.5C1006 199.4 1001.2 200.9 999.8 201.4" stroke="#3f8eee"/>
<path d="M999.8 94.6C1001.6 95.2 1006.8 96.8 1010.6 98.3C1014.4 99.9 1020.8 102.9 1022.8 103.8" stroke="#5a6af0"/>
<path d="M1044.2 146.4C1044.1 147.1 1043.7 149.1 1043.4 150.4C1043.1 151.8 1042.8 153.1 1042.4 154.4C1041.9 155.7 1041.5 157.1 1040.9 158.3C1040.4 159.6 1040.1 160.6 1039.2 162.2C1038.4 163.7 1037.1 166.2 1036.1 167.6C1035.2 169.1 1034.5 169.9 1033.6 171C1032.8 172.1 1031.9 173.2 1030.9 174.2C1029.9 175.3 1028.9 176.3 1027.9 177.3C1026.9 178.2 1025.9 179.2 1024.8 180.1C1023.7 181 1022.9 181.7 1021.5 182.7C1020.1 183.8 1018.5 185 1016.3 186.4C1014.2 187.7 1010.7 189.7 1008.7 190.8C1006.7 191.9 1005.9 192.2 1004.4 192.8C1002.9 193.5 1000.6 194.4 999.8 194.7" stroke="#5a6af0"/>
<path d="M999.8 102C1000.4 102.3 1002.3 103.3 1003.5 104C1004.7 104.7 1005.9 105.5 1007.1 106.4C1008.2 107.2 1009.4 108.1 1010.6 109C1011.8 110 1013.5 111.6 1014.1 112.1" stroke="#4b3cae"/>
<path d="M1024.2 157.3C1023.9 157.9 1023 159.9 1022.3 161.2C1021.6 162.5 1020.8 163.7 1020 164.9C1019.2 166.1 1018.3 167.2 1017.4 168.4C1016.5 169.5 1015.5 170.6 1014.5 171.6C1013.5 172.7 1012.5 173.7 1011.4 174.7C1010.3 175.7 1009.2 176.7 1008 177.6C1006.9 178.6 1006 179.3 1004.5 180.3C1003.1 181.3 1000.2 183.2 999.3 183.8" stroke="#4b3cae"/>
<path d="M999.8 206C1001.2 205.6 1006.3 204.2 1008.4 203.6C1010.6 203 1011.3 202.7 1012.7 202.2C1014.1 201.8 1013.4 202.1 1016.8 200.6C1020.2 199.2 1029.6 195.3 1033 193.8C1036.3 192.3 1035.5 192.4 1036.6 191.7C1037.8 190.9 1038.7 190.4 1040 189.3C1041.4 188.3 1043.3 186.7 1044.9 185.4C1046.4 184 1047.7 182.9 1049.3 181.2C1051 179.5 1053.3 177 1054.8 175.2C1056.3 173.3 1057.6 171.6 1058.6 170.1C1059.6 168.7 1060.2 167.8 1060.9 166.6C1061.6 165.4 1062.1 164.5 1062.9 162.9C1063.7 161.3 1064.7 159.4 1065.6 157.1C1066.5 154.8 1067.6 151.5 1068.3 149C1069.1 146.5 1069.5 144.4 1070 142.3C1070.5 140.1 1070.7 138.5 1071.1 136C1071.5 133.5 1072 129.6 1072.3 127.3C1072.7 125.1 1073 123.7 1073.3 122.5C1073.5 121.3 1073.7 120.9 1074 120.1C1074.2 119.3 1074.6 118.5 1074.9 117.8C1075.3 117 1075.7 116.3 1076.2 115.6C1076.7 114.9 1077.2 114.3 1077.8 113.7C1078.4 113.1 1079.1 112.5 1079.7 112C1080.4 111.5 1080.7 111.2 1081.8 110.5C1082.9 109.9 1085.2 108.8 1086.3 108.3C1087.4 107.8 1087.5 107.8 1088.6 107.5C1089.8 107.1 1090.9 106.7 1093.2 106.2C1095.5 105.7 1100.7 104.9 1102.2 104.7" stroke="#2ba6e0"/>
<path d="M1151.2 93.8C1152.2 93.4 1155.3 92.4 1157.4 91.6C1159.5 90.7 1161.9 89.7 1163.7 88.9C1165.4 88.1 1165.8 87.9 1167.8 86.8C1169.8 85.7 1173.7 83.4 1175.7 82.2C1177.7 81 1178.3 80.5 1179.6 79.6C1180.8 78.7 1182.1 77.7 1183.2 76.6C1184.4 75.5 1185.6 74.1 1186.4 73.1C1187.2 72.2 1187.7 71.3 1187.9 70.9" stroke="#2ba6e0"/>
<path d="M999.8 210.6C1001.9 210.1 1008.1 208.7 1012.4 207.4C1016.7 206.1 1021.5 204.2 1025.6 202.9C1029.7 201.5 1034.5 200.2 1037.2 199.2C1039.8 198.3 1040.2 197.9 1041.7 197.2C1043.2 196.5 1044.6 195.8 1045.9 195C1047.3 194.2 1048.3 193.6 1049.8 192.5C1051.3 191.5 1053.4 190 1055 188.6C1056.7 187.2 1058.3 185.8 1059.8 184.2C1061.4 182.7 1062.9 181.1 1064.4 179.4C1065.9 177.7 1067.3 176 1068.6 174.2C1069.9 172.4 1071.4 170.3 1072.4 168.8C1073.4 167.3 1073.8 166.6 1074.7 165.1C1075.6 163.5 1075.9 163.2 1077.8 159.4C1079.7 155.5 1084.5 145.5 1086.2 142C1088 138.5 1087.6 139.5 1088.3 138.4C1089.1 137.2 1089.6 136.3 1090.7 134.9C1091.8 133.5 1093.7 131.4 1094.9 130.2C1096.1 129 1097 128.3 1098.1 127.5C1099.2 126.6 1100.3 125.8 1101.5 125.1C1102.6 124.3 1103.8 123.6 1105 122.9C1106.2 122.3 1107.1 121.8 1108.7 121.1C1110.2 120.4 1112.4 119.5 1114.4 118.8C1116.3 118 1118.2 117.4 1120.2 116.8C1122.2 116.2 1124.3 115.6 1126.3 115.1C1128.4 114.5 1130.1 114.1 1132.6 113.6C1135.1 113.1 1138.8 112.3 1141.5 111.9C1144.2 111.4 1147.5 110.9 1148.7 110.7" stroke="#1ab6cc"/>
<path d="M1197.8 99.8C1199.4 99.2 1204.7 97.1 1207.3 96C1209.8 95 1211.5 94.1 1213.1 93.3C1214.7 92.5 1215 92.3 1216.9 91.2C1218.8 90 1222.2 87.9 1224.3 86.4C1226.5 85 1228.3 83.6 1229.7 82.5C1231.2 81.3 1232.1 80.5 1233.1 79.5C1234.2 78.4 1235.3 77.2 1236.2 76C1237.1 74.9 1238.1 73.4 1238.7 72.5C1239.2 71.7 1239.4 71.2 1239.5 70.9" stroke="#1ab6cc"/>
<path d="M999.8 212.6C1001.3 212.3 1006.5 211.5 1008.7 211.1C1010.9 210.7 1011.7 210.5 1013.1 210.1C1014.6 209.8 1015 209.7 1017.5 208.9C1019.9 208.1 1024.8 206.3 1027.7 205.5C1030.6 204.7 1033.2 204.7 1035 204.3C1036.9 203.9 1037.5 203.7 1038.8 203.3C1040.1 202.9 1041.4 202.4 1042.7 201.8C1043.9 201.2 1044.9 200.8 1046.5 199.9C1048 199.1 1050.2 197.9 1051.9 196.7C1053.7 195.6 1055.5 194.4 1057.2 193.2C1058.9 192 1060.5 190.7 1062.1 189.3C1063.7 187.9 1065.5 186.3 1066.8 185C1068 183.8 1068.5 183.3 1069.7 182C1070.9 180.7 1072.1 179.4 1073.8 177.1C1075.6 174.8 1077.1 172.9 1080.2 168.3C1083.3 163.7 1089.3 153.8 1092.2 149.5C1095.1 145.2 1095.9 144.4 1097.6 142.4C1099.2 140.5 1100.7 139 1102 137.8C1103.3 136.5 1104.1 135.9 1105.3 135C1106.4 134.2 1107.5 133.4 1108.7 132.6C1109.9 131.9 1111.1 131.2 1112.4 130.5C1113.6 129.8 1114.5 129.3 1116.2 128.6C1117.8 127.8 1120.4 126.8 1122.1 126.2C1123.8 125.5 1124.5 125.3 1126.2 124.8C1127.9 124.3 1129 123.9 1132.4 123C1135.9 122.2 1139.8 121.2 1147 119.8C1154.1 118.4 1170.7 115.4 1175.4 114.5" stroke="#22bdbb"/>
<path d="M1225.2 103.3C1226.6 102.8 1230.9 101.4 1233.7 100.4C1236.4 99.3 1239.5 98 1241.8 97C1244.1 95.9 1245.3 95.2 1247.4 94C1249.6 92.7 1252.5 90.8 1254.4 89.4C1256.4 88 1257.8 87 1259.3 85.6C1260.8 84.3 1262.3 82.9 1263.6 81.4C1264.9 79.8 1266.4 77.6 1267.2 76.5C1268 75.4 1267.8 75.6 1268.2 74.7C1268.7 73.8 1269.6 71.5 1269.9 70.9" stroke="#22bdbb"/>
<path d="M999.8 218C1001.6 217.8 1007.5 217.3 1010.7 216.9C1014 216.5 1016.5 216.2 1019.2 215.8C1022 215.3 1025 214.8 1027.4 214.3C1029.7 213.9 1031.3 213.5 1033.4 213C1035.4 212.4 1037.5 211.8 1039.5 211.1C1041.6 210.5 1043.6 209.7 1045.6 208.9C1047.6 208.1 1049.2 207.4 1051.4 206.3C1053.6 205.2 1056.7 203.6 1058.8 202.4C1061 201.3 1062.6 200.3 1064.4 199.2C1066.2 198.1 1068.1 196.9 1069.8 195.7C1071.6 194.5 1073.4 193.2 1075 191.9C1076.7 190.6 1077.8 189.8 1079.9 188C1082 186.1 1084 184.4 1087.4 180.8C1090.9 177.2 1097.5 169.7 1100.4 166.5C1103.4 163.3 1103.7 163 1105 161.7C1106.3 160.4 1106.9 159.9 1108.2 158.7C1109.6 157.5 1111.5 155.8 1113.2 154.4C1115 153.1 1116.4 152 1118.5 150.6C1120.6 149.2 1123.7 147.3 1125.9 146.1C1128 144.8 1129.3 144.2 1131.6 143.1C1133.8 142.1 1137.1 140.7 1139.3 139.8C1141.6 138.9 1142.9 138.4 1145.2 137.7C1147.5 136.9 1150.8 136 1153.1 135.3C1155.5 134.7 1156.8 134.4 1159.2 133.9C1161.6 133.4 1163.3 133 1167.5 132.3C1171.7 131.6 1175.5 130.9 1184.6 129.7C1193.6 128.5 1212.5 126.2 1222 124.9C1231.6 123.6 1238.7 122.4 1242 121.9" stroke="#46c590"/>
<path d="M1291.1 110.7C1292.8 110.2 1298.2 108.6 1301.2 107.5C1304.1 106.5 1306.7 105.4 1308.9 104.4C1311.1 103.4 1312.9 102.5 1314.5 101.7C1316 100.9 1316.3 100.8 1318.1 99.7C1319.8 98.6 1322.7 96.9 1325 95.3C1327.2 93.6 1329.8 91.4 1331.4 90.1C1332.9 88.7 1333.4 88.2 1334.4 87.2C1335.4 86.2 1336.1 85.5 1337.2 84.1C1338.3 82.7 1339.7 81.2 1341.1 79C1342.4 76.8 1344.5 72.2 1345.2 70.9" stroke="#46c590"/>
<path d="M999.8 220.6C1004.2 220.4 1020.8 219.5 1026.3 219.2C1031.8 218.9 1030.7 218.8 1032.9 218.5C1035 218.3 1037.1 218 1039.2 217.6C1041.2 217.1 1043.2 216.7 1045.3 216.1C1047.3 215.6 1049.3 215 1051.3 214.2C1053.3 213.5 1055 212.9 1057.4 211.9C1059.8 210.9 1063.1 209.4 1065.5 208.2C1067.8 207.1 1069.1 206.4 1071.4 205.1C1073.7 203.9 1076.9 202 1079.1 200.6C1081.3 199.2 1082.8 198.2 1084.6 196.9C1086.4 195.6 1088.1 194.3 1089.8 193C1091.5 191.6 1093.1 190.2 1094.7 188.8C1096.3 187.4 1096.3 187.5 1099.4 184.5C1102.5 181.5 1110.1 173.8 1113.2 170.7C1116.3 167.7 1116.4 167.6 1118 166.1C1119.7 164.6 1121.3 163.2 1123.1 161.8C1124.8 160.4 1126.5 159 1128.3 157.8C1130.1 156.5 1131.9 155.3 1133.7 154.2C1135.5 153.1 1137.4 152.1 1139.2 151.2C1141.1 150.3 1142.9 149.5 1144.8 148.7C1146.7 148 1148.6 147.4 1150.4 146.7C1152.3 146.1 1153.9 145.7 1156.1 145.1C1158.4 144.6 1159.6 144.2 1163.9 143.4C1168.2 142.5 1176 141.1 1182.2 140.1C1188.4 139.2 1188.8 139.1 1201 137.6C1213.1 136.1 1243.1 132.8 1255.2 131.3C1267.3 129.8 1266.8 129.7 1273.5 128.6C1280.1 127.5 1291.7 125.3 1295.4 124.7" stroke="#70c871"/>
<path d="M1332.7 116C1334 115.5 1337.4 114.1 1340.4 113.1C1343.4 112.2 1347.6 111.1 1350.6 110.1C1353.6 109.1 1356 108.2 1358.6 107.2C1361.3 106.1 1364.5 104.6 1366.4 103.6C1368.3 102.7 1368.9 102.3 1370.1 101.5C1371.3 100.8 1372.2 100.3 1373.6 99.2C1375 98.2 1377.2 96.5 1378.6 95.3C1379.9 94.2 1380.7 93.5 1381.7 92.5C1382.7 91.5 1383.6 90.5 1384.6 89.4C1385.5 88.4 1386.4 87.3 1387.2 86.2C1388.1 85.1 1388.9 83.9 1389.7 82.7C1390.4 81.5 1391.2 80 1391.7 79C1392.1 78.1 1392 78.4 1392.5 77.1C1393 75.7 1394.2 71.9 1394.5 70.9" stroke="#70c871"/>
<path d="M999.8 223.3C1002 223.3 1008.9 223.5 1012.9 223.5C1016.9 223.5 1020.6 223.4 1023.9 223.3C1027.2 223.2 1030.2 222.9 1032.8 222.7C1035.4 222.5 1037.3 222.2 1039.5 221.9C1041.8 221.5 1043.6 221.2 1046.2 220.7C1048.7 220.1 1052.3 219.3 1054.7 218.6C1057.2 217.9 1058.5 217.4 1060.9 216.6C1063.3 215.7 1066.3 214.6 1069 213.5C1071.7 212.3 1074.6 211 1076.9 209.9C1079.2 208.8 1080.7 208 1082.6 207C1084.4 206 1086.2 204.9 1088 203.8C1089.8 202.7 1091.6 201.5 1093.3 200.3C1095 199.1 1096.8 197.8 1098.5 196.4C1100.1 195.1 1099.1 196.1 1103.5 192.4C1107.8 188.6 1119.9 177.9 1124.5 174C1129.1 170.2 1129.1 170.4 1131.1 169.1C1133 167.7 1134.1 166.9 1136.1 165.7C1138.2 164.5 1140.8 163.1 1143.2 161.9C1145.6 160.7 1147.7 159.8 1150.5 158.7C1153.3 157.6 1156.4 156.4 1160 155.3C1163.6 154.1 1167.9 152.8 1171.9 151.7C1176 150.6 1180.1 149.7 1184.3 148.9C1188.4 148.1 1192.6 147.5 1196.8 146.9C1201 146.4 1198.9 146.6 1209.4 145.7C1219.8 144.7 1246.6 142.6 1259.6 141.4C1272.5 140.3 1278 139.7 1287 138.7C1296 137.7 1303.4 136.9 1313.5 135.6C1323.6 134.3 1342 131.7 1347.7 130.9" stroke="#95c753"/>
<path d="M1384.7 121.3C1387 120.5 1395 118 1398.7 116.7C1402.3 115.5 1404.3 114.7 1406.6 113.7C1408.9 112.8 1409.9 112.5 1412.5 111.3C1415 110.1 1419.5 107.9 1422 106.6C1424.5 105.3 1426 104.3 1427.5 103.4C1429 102.5 1429.9 101.9 1431.1 101.1C1432.2 100.2 1433.1 99.6 1434.5 98.5C1435.9 97.4 1437.8 95.8 1439.3 94.4C1440.8 92.9 1442.5 91.2 1443.7 89.9C1444.9 88.6 1445.5 87.8 1446.4 86.7C1447.2 85.6 1448.1 84.5 1448.8 83.4C1449.6 82.3 1450.3 81.2 1451 80C1451.6 78.8 1452.1 77.9 1452.8 76.4C1453.4 74.9 1454.7 71.8 1455.1 70.9" stroke="#95c753"/>
<path d="M999.8 226.1C1002 226.3 1009.3 227.1 1012.9 227.4C1016.6 227.6 1018.7 227.8 1021.7 227.9C1024.6 228 1027.9 228 1030.4 228C1032.9 227.9 1034.4 227.9 1036.8 227.6C1039.3 227.4 1042.3 227.1 1045 226.7C1047.7 226.3 1050.7 225.8 1053.1 225.3C1055.4 224.8 1056.7 224.5 1059 223.8C1061.3 223.1 1064.6 222.1 1066.8 221.3C1069.1 220.5 1070.4 219.9 1072.7 219C1075 218 1078 216.7 1080.5 215.5C1083.1 214.3 1085.7 213 1088.1 211.7C1090.6 210.3 1092.5 209.3 1095.5 207.4C1098.5 205.6 1101.4 203.7 1106.1 200.3C1110.8 196.9 1119.6 190.2 1123.7 187.2C1127.8 184.2 1128.3 183.8 1130.7 182.2C1133.1 180.6 1135.5 179 1137.9 177.5C1140.3 176.1 1142.5 174.8 1145.3 173.4C1148 171.9 1151.5 170.2 1154.7 168.8C1157.8 167.3 1161.3 165.9 1164.2 164.8C1167.1 163.7 1169.4 163 1172 162.3C1174.6 161.5 1176.9 160.9 1180 160.3C1183 159.7 1186.1 159.1 1190.2 158.6C1194.3 158.1 1190.8 158.1 1204.8 157.2C1218.7 156.4 1253.3 154.9 1273.9 153.7C1294.5 152.6 1316.4 151 1328.2 150.2C1340.1 149.4 1339.8 149.3 1344.9 148.8C1350.1 148.4 1354.1 147.9 1359.2 147.2C1364.2 146.6 1369.9 145.8 1375.2 144.9C1380.5 144.1 1385.2 143.3 1391.1 142.2C1397 141.1 1407.5 138.9 1410.8 138.3" stroke="#b6c241"/>
<path d="M1450.6 128.6C1453.3 127.6 1461.7 124.8 1466.7 122.8C1471.6 120.9 1476.7 118.6 1480.2 117C1483.6 115.4 1485.4 114.4 1487.6 113.3C1489.7 112.2 1491.2 111.3 1492.9 110.3C1494.7 109.3 1496.4 108.2 1498.1 107.1C1499.8 106 1501.5 104.9 1503.2 103.7C1504.8 102.5 1506.4 101.2 1508 100C1509.5 98.7 1511 97.3 1512.5 96C1513.9 94.6 1515.5 92.9 1516.7 91.7C1517.8 90.5 1518.3 89.9 1519.3 88.6C1520.4 87.3 1522 85.2 1523 83.8C1524 82.4 1524.1 82.5 1525.2 80.3C1526.4 78.2 1529.2 72.5 1530 70.9" stroke="#b6c241"/>
<path d="M999.8 229C1001.6 229.3 1007.4 230.3 1010.7 230.8C1014 231.3 1016.6 231.7 1019.5 232C1022.5 232.3 1025.8 232.5 1028.4 232.7C1030.9 232.8 1032.4 232.8 1035 232.8C1037.6 232.7 1041.3 232.6 1043.9 232.4C1046.5 232.2 1048.3 231.9 1050.4 231.6C1052.6 231.3 1054.3 231 1056.8 230.4C1059.2 229.9 1062.6 229 1064.9 228.3C1067.3 227.6 1068.6 227.1 1070.9 226.3C1073.3 225.4 1076.2 224.3 1078.9 223.2C1081.5 222.1 1084.1 220.9 1086.8 219.7C1089.4 218.4 1092 217.1 1094.5 215.8C1097.1 214.4 1099.6 213 1102.1 211.6C1104.5 210.2 1103.4 211 1109.4 207.3C1115.4 203.6 1132 193 1138 189.3C1144 185.7 1142.9 186.5 1145.4 185.2C1147.8 184 1150 182.8 1152.8 181.5C1155.7 180.2 1159.5 178.6 1162.3 177.4C1165.2 176.3 1167.5 175.5 1170.1 174.7C1172.7 173.9 1175.3 173.2 1178 172.6C1180.6 171.9 1183.3 171.5 1186.1 171C1188.8 170.6 1191.6 170.2 1194.4 169.9C1197.1 169.6 1197.8 169.5 1202.7 169.2C1207.6 168.8 1216.4 168.3 1223.8 168C1231.1 167.7 1228.5 167.7 1246.9 167.4C1265.3 167 1316.7 166.2 1334 165.9C1351.3 165.5 1345.1 165.5 1350.7 165.2C1356.2 164.9 1361 164.6 1367.2 164.1C1373.5 163.7 1381.3 163 1388.3 162.3C1395.3 161.6 1398.7 161.3 1409.5 159.9C1420.2 158.6 1438 156.2 1452.7 154.2C1467.3 152.3 1489.7 149.1 1497.1 148.1" stroke="#d6bc3c"/>
<path d="M1534.6 139C1536.6 138.3 1543.2 135.9 1546.5 134.7C1549.8 133.5 1551.5 132.8 1554.4 131.6C1557.4 130.4 1561.2 128.7 1564.1 127.5C1567 126.2 1569.3 125.2 1571.8 124C1574.3 122.8 1577.1 121.3 1579.3 120.2C1581.4 119.1 1582.7 118.4 1584.8 117.1C1586.9 115.9 1589.9 114 1592 112.7C1594 111.3 1595.2 110.5 1597.2 109C1599.2 107.6 1601.9 105.4 1603.8 103.8C1605.7 102.3 1606.8 101.3 1608.6 99.6C1610.4 97.9 1612.9 95.5 1614.6 93.7C1616.3 91.9 1617.4 90.6 1618.7 88.9C1620.1 87.3 1621.6 85.3 1622.6 83.9C1623.6 82.5 1624.2 81.6 1624.9 80.4C1625.6 79.2 1626.1 78.3 1626.7 76.7C1627.4 75.2 1628.5 71.9 1628.8 70.9" stroke="#d6bc3c"/>
<path d="M999.8 232.7C1001.2 233.1 1005.3 234.3 1008.1 234.9C1010.9 235.6 1013.4 236 1016.5 236.5C1019.6 236.9 1023.1 237.2 1026.9 237.5C1030.7 237.8 1035.8 238 1039.2 238C1042.6 238.1 1044.9 238 1047.4 237.8C1049.8 237.7 1051.2 237.5 1053.7 237.2C1056.2 236.8 1059.5 236.3 1062.4 235.8C1065.2 235.2 1068 234.6 1070.8 233.9C1073.5 233.2 1076.5 232.4 1078.9 231.7C1081.2 231 1082.5 230.5 1084.9 229.7C1087.2 228.9 1090.2 227.7 1092.9 226.6C1095.5 225.5 1096.9 225 1100.8 223.1C1104.7 221.3 1109.1 219.2 1116.2 215.4C1123.3 211.6 1137.4 203.6 1143.5 200.3C1149.6 197.1 1150 197.1 1152.9 195.8C1155.7 194.6 1157.6 193.8 1160.5 192.7C1163.3 191.6 1166.9 190.3 1170.2 189.3C1173.5 188.4 1176.9 187.5 1180.3 186.8C1183.7 186 1186.9 185.4 1190.7 184.9C1194.5 184.3 1199.3 183.6 1203 183.2C1206.8 182.8 1209.8 182.5 1213.2 182.3C1216.7 182 1219.8 181.9 1223.5 181.7C1227.3 181.5 1231.1 181.4 1236 181.2C1240.9 181.1 1244.6 181 1252.8 181C1261.1 181 1272.4 180.9 1285.8 181.1C1299.1 181.4 1321.9 182.1 1332.8 182.3C1343.7 182.6 1343.8 182.6 1351.4 182.6C1358.9 182.6 1368.5 182.5 1378.1 182.3C1387.7 182.2 1396.6 182 1409 181.5C1421.3 181 1437.4 180.2 1452.3 179.4C1467.2 178.5 1482.2 177.6 1498.1 176.4C1514.1 175.2 1536.6 173.3 1547.9 172.4C1559.1 171.4 1560.3 171.2 1565.5 170.6C1570.6 170.1 1576.6 169.3 1578.8 169" stroke="#f0b942"/>
<path d="M1616.3 161C1620.2 160 1632.9 156.9 1639.8 155C1646.8 153.1 1652.1 151.6 1657.8 149.9C1663.4 148.2 1668.5 146.5 1673.8 144.7C1679.1 142.8 1684.7 140.7 1689.4 138.8C1694.2 136.8 1698.6 134.9 1702.5 133C1706.5 131.1 1709.5 129.5 1713.4 127.4C1717.3 125.2 1720.7 123.3 1725.8 120C1731 116.8 1741.4 110.1 1744.5 108.1" stroke="#f0b942"/>
<path d="M999.8 236C1001.2 236.5 1005.6 238.2 1008.3 239.1C1011.1 240 1014.4 240.9 1016.4 241.5C1018.4 242 1018.7 242 1020.3 242.3C1022 242.6 1023.6 242.9 1026.2 243.2C1028.9 243.5 1033.4 244 1036.1 244.2C1038.8 244.3 1039.9 244.3 1042.4 244.2C1044.9 244.1 1044.7 244.4 1051.1 243.5C1057.5 242.6 1074.4 240 1080.7 239C1086.9 238 1086.3 237.9 1088.7 237.4C1091 236.8 1092.7 236.3 1094.7 235.8C1096.7 235.2 1098.4 234.6 1100.8 233.8C1103.2 233 1106.2 231.9 1108.9 230.8C1111.6 229.7 1114.3 228.6 1117.1 227.4C1119.8 226.2 1119.2 226.6 1125.2 223.7C1131.1 220.9 1146.9 213.2 1152.8 210.4C1158.6 207.6 1157.9 208.2 1160.4 207.2C1163 206.3 1164.9 205.6 1168.2 204.6C1171.6 203.6 1176.3 202.3 1180.3 201.4C1184.4 200.5 1188.6 199.7 1192.7 199C1196.9 198.4 1201 197.8 1205.1 197.4C1209.2 197 1212.9 196.8 1217.4 196.5C1221.8 196.3 1226.6 196.1 1231.8 196C1237 195.9 1243 195.8 1248.6 195.8C1254.2 195.8 1259.8 195.9 1265.3 196C1270.8 196.1 1271.1 196 1281.6 196.4C1292.2 196.9 1308.8 197.6 1328.7 198.7C1348.5 199.8 1384.2 202.2 1400.7 203.1C1417.2 204 1418.3 203.9 1427.5 204.3C1436.8 204.6 1446.5 204.9 1456.4 205.2C1466.4 205.4 1477.4 205.6 1487.4 205.8C1497.4 205.9 1507.8 206 1516.4 206C1525 206 1530.1 206 1539 205.8C1547.9 205.7 1564.6 205.4 1569.7 205.3" stroke="#f9be42"/>
<path d="M1608.3 203.7C1624.3 202.2 1685.1 196.7 1704.5 194.9C1723.8 193 1717.7 193.5 1724.3 192.6C1731 191.8 1741.1 190.4 1744.5 189.9" stroke="#f9be42"/>
<path d="M999.8 240.6C1001.3 241.3 1006.5 243.8 1009 244.9C1011.4 246 1012.4 246.4 1014.6 247.2C1016.8 248 1020 249 1022.3 249.6C1024.6 250.3 1026 250.5 1028.4 251C1030.7 251.4 1033.5 251.8 1036.6 252.2C1039.7 252.5 1043.8 252.8 1046.9 253C1050 253.1 1052 253.1 1055 253C1058.1 252.8 1062.5 252.5 1065.3 252.2C1068 251.9 1069 251.7 1071.5 251.3C1073.9 250.9 1077.4 250.2 1079.9 249.7C1082.4 249.1 1083.8 248.8 1086.3 248.1C1088.8 247.5 1088 247.8 1094.8 245.7C1101.7 243.7 1120.7 238 1127.4 235.8C1134.2 233.7 1131.4 234.5 1135.3 233C1139.3 231.4 1147.2 228.1 1151.2 226.6C1155.2 225 1157 224.5 1159.4 223.7C1161.8 222.9 1163.2 222.5 1165.7 221.8C1168.1 221.2 1169.9 220.6 1174.1 219.7C1178.3 218.8 1186.7 217.1 1190.8 216.4C1195 215.6 1196.3 215.4 1199 215C1201.8 214.6 1204.5 214.3 1207.3 214C1210 213.7 1212.8 213.4 1215.6 213.2C1218.3 212.9 1219.4 212.8 1223.9 212.6C1228.4 212.5 1237.2 212.2 1242.8 212.2C1248.3 212.2 1252.5 212.3 1257.3 212.4C1262.1 212.6 1263.3 212.6 1271.8 213.1C1280.3 213.7 1296.1 215 1308.3 215.9C1320.4 216.8 1336.1 217.7 1344.5 218.4C1353 219 1349.6 218.8 1358.9 219.8C1368.3 220.8 1385.8 222.9 1400.7 224.5C1415.6 226.1 1435.1 228.2 1448.2 229.5C1461.3 230.8 1466.8 231.3 1479.2 232.4C1491.6 233.4 1507.7 234.5 1522.6 235.8C1537.5 237.2 1560.9 239.7 1568.6 240.5" stroke="#f8cc3b"/>
<path d="M1607.2 241.6C1615.6 242.1 1645.2 243.7 1657.4 244.3C1669.6 244.9 1672.9 245 1680.5 245.3C1688.1 245.5 1692.3 245.6 1703 245.8C1713.7 245.9 1737.6 246.1 1744.5 246.2" stroke="#f8cc3b"/>
<path d="M999.8 246.1C1001.2 247.1 1005.5 250.3 1008.1 252C1010.8 253.7 1013.5 255.2 1015.8 256.4C1018.1 257.6 1019.5 258.3 1021.8 259.1C1024.1 260 1026.9 260.9 1029.6 261.7C1032.2 262.4 1034.6 262.9 1037.6 263.4C1040.7 263.9 1044.5 264.3 1047.9 264.5C1051.3 264.8 1054.7 265 1058.1 265C1061.5 265 1065.3 264.9 1068.3 264.7C1071.4 264.5 1073.8 264.3 1076.6 263.9C1079.4 263.6 1082.2 263.2 1085 262.7C1087.8 262.2 1090.3 261.8 1093.5 261.1C1096.6 260.5 1100.5 259.6 1104 258.7C1107.5 257.9 1111 256.9 1114.5 256C1118 255 1118.3 255 1125.1 252.9C1132 250.7 1148.9 245.2 1155.7 243.1C1162.5 240.9 1162.1 241 1165.9 240C1169.7 238.9 1174.3 237.7 1178.4 236.7C1182.6 235.7 1186.4 234.9 1190.8 234.1C1195.3 233.3 1201.4 232.5 1205.2 232C1209 231.5 1210.7 231.5 1213.5 231.2C1216.2 231 1217.6 230.9 1221.8 230.7C1226 230.6 1233 230.4 1238.6 230.4C1244.2 230.5 1250.7 230.8 1255.2 231C1259.7 231.2 1261.8 231.4 1265.6 231.7C1269.4 232 1271.1 232.1 1277.9 232.7C1284.7 233.4 1296.5 234.8 1306.3 235.7C1316 236.7 1328.9 237.7 1336.2 238.5C1343.6 239.2 1331.5 237.2 1350.4 240.2C1369.2 243.2 1421.3 252.2 1449.6 256.7C1478 261.3 1500.7 264.3 1520.5 267.6C1540.4 270.8 1560.6 274.7 1568.6 276.1" stroke="#f5dd36"/>
<path d="M1608.3 281.3C1616.5 282.5 1634.7 285.2 1657.4 288.2C1680.1 291.3 1730 297.8 1744.5 299.7" stroke="#f5dd36"/>
<path d="M998.8 253C999.6 254.2 1002.3 258.5 1003.5 260.2C1004.8 262 1005.3 262.6 1006.2 263.7C1007.2 264.8 1008.5 266.1 1009.2 266.9C1010 267.7 1010 267.7 1010.8 268.3C1011.7 269 1012.8 270 1014.3 270.9C1015.8 271.9 1018.3 273.3 1019.9 274.1C1021.4 274.9 1022.4 275.3 1023.7 275.8C1024.9 276.4 1026.2 276.9 1027.5 277.3C1028.8 277.8 1029.8 278.1 1031.5 278.6C1033.1 279 1035.8 279.6 1037.5 280C1039.2 280.4 1039.9 280.5 1041.6 280.7C1043.4 281 1045.1 281.3 1047.9 281.5C1050.6 281.7 1054.7 282 1058.1 282C1061.5 282.1 1064.9 282 1068.3 281.7C1071.8 281.5 1074.9 281.2 1078.7 280.8C1082.5 280.3 1087.1 279.7 1091.4 279C1095.6 278.3 1099.8 277.6 1104 276.8C1108.2 276 1112.4 275.1 1116.6 274.1C1120.9 273.2 1125.5 272 1129.3 271C1133.2 270 1134.9 269.6 1139.7 268.2C1144.4 266.8 1153 264.1 1157.7 262.7C1162.4 261.4 1164.2 260.9 1168 260.1C1171.8 259.2 1176 258.3 1180.5 257.5C1185 256.7 1191.2 255.9 1195 255.4C1198.7 254.9 1200.1 254.8 1203.2 254.5C1206.2 254.3 1210.4 254 1213.5 253.8C1216.6 253.6 1218.7 253.5 1221.8 253.4C1224.9 253.3 1228.8 253.3 1232.3 253.3C1235.8 253.3 1239.3 253.3 1242.8 253.4C1246.2 253.5 1250.1 253.7 1253.2 253.9C1256.3 254.1 1258.4 254.2 1261.5 254.5C1264.6 254.8 1264.3 254.6 1271.8 255.5C1279.2 256.5 1295.2 258.8 1306.3 260.1C1317.3 261.4 1331.6 262.7 1338.3 263.5C1345 264.3 1343.4 264.2 1346.4 264.7C1349.4 265.2 1352.3 265.8 1356.3 266.6C1360.3 267.4 1356 266.4 1370.2 269.7C1384.5 273 1417.6 280.9 1441.7 286.4C1465.8 291.9 1500.3 299.3 1514.8 302.6C1529.3 305.9 1519.4 303.6 1528.7 306.1C1538.1 308.6 1563.9 315.8 1570.9 317.7" stroke="#f4ec33"/>
<path d="M1608.3 325.6C1614.1 327 1629.4 331 1643.1 334.2C1656.9 337.5 1673.8 341.1 1690.7 345C1707.6 348.9 1735.5 355.5 1744.5 357.6" stroke="#f4ec33"/>
<path d="M995.6 254.9C996.1 256.4 998 261.6 998.8 263.8C999.6 265.9 999.9 266.4 1000.6 267.7C1001.2 269 1001.8 270.2 1002.6 271.5C1003.3 272.7 1004.1 274 1004.9 275.2C1005.8 276.4 1006.7 277.6 1007.7 278.8C1008.7 280 1010 281.4 1010.8 282.2C1011.7 283 1012 283.2 1012.5 283.7C1013.1 284.2 1013.4 284.4 1014.3 285.1C1015.2 285.7 1016.4 286.7 1018 287.6C1019.5 288.4 1022.1 289.7 1023.7 290.4C1025.3 291.1 1026.2 291.3 1027.5 291.7C1028.8 292.1 1029.5 292.3 1031.5 292.7C1033.5 293.1 1037.2 293.7 1039.6 294.1C1042 294.5 1043.7 294.6 1045.8 294.8C1047.9 295 1049.3 295.2 1052 295.2C1054.7 295.3 1058.8 295.3 1062.2 295.2C1065.6 295 1068.3 294.8 1072.5 294.3C1076.6 293.8 1081.5 293.2 1087.1 292.2C1092.7 291.3 1099.8 290 1106.1 288.8C1112.4 287.5 1119.9 285.8 1125.1 284.6C1130.4 283.4 1131.9 283.1 1137.6 281.5C1143.4 279.9 1154.3 276.7 1159.7 275.2C1165.1 273.7 1166.6 273.4 1170.1 272.7C1173.5 271.9 1177 271.2 1180.5 270.6C1184 270 1186.7 269.6 1190.8 269.1C1195 268.6 1200.1 268 1205.2 267.6C1210.4 267.3 1216.6 267 1221.8 266.8C1227 266.7 1231.6 266.7 1236.5 266.8C1241.4 267 1246.9 267.3 1251.1 267.6C1255.2 267.9 1258 268.2 1261.5 268.6C1264.9 268.9 1264 268.7 1271.8 269.8C1279.6 270.9 1297.5 273.9 1308.3 275.3C1319 276.7 1330.2 277.6 1336.2 278.3C1342.2 279 1341.3 279 1344.3 279.6C1347.4 280.1 1350.7 280.7 1354.3 281.5C1358 282.4 1357.3 282.1 1366.2 284.4C1375.2 286.8 1390.3 290.7 1408.2 295.5C1426 300.3 1455.7 308.4 1473.4 313C1491 317.6 1505.1 320.9 1514.2 323.3C1523.3 325.7 1522.5 325.6 1527.9 327.3C1533.4 329 1543.8 332.6 1547 333.6" stroke="#f6f530"/>
<path d="M1608.3 350.6C1613.2 352 1623.6 355 1637.5 358.9C1651.5 362.8 1674.2 368.9 1692 374C1709.8 379.1 1735.8 387 1744.5 389.6" stroke="#f6f530"/>
</g>
<g class="clab" font-family="'Liberation Sans', Arial, Helvetica, sans-serif" font-size="23" fill="#000" stroke="#000" stroke-width="0.35" text-anchor="middle">
<text transform="translate(1100.3 86.8) rotate(-8) scale(1 1)" dy="0.36em">-17</text>
<text transform="translate(1127.1 98.7) rotate(-10) scale(1 1)" dy="0.36em">-15</text>
<text transform="translate(1049.6 108.9) rotate(55) scale(1 1)" dy="0.36em">-17</text>
<text transform="translate(1037.6 126.4) rotate(62) scale(1 1)" dy="0.36em">-20</text>
<text transform="translate(1022.8 133.8) rotate(72) scale(1 1)" dy="0.36em">-25</text>
<text transform="translate(1173.6 105.4) rotate(-12) scale(1 1)" dy="0.36em">-13</text>
<text transform="translate(1200.9 107.9) rotate(-14) scale(1 1)" dy="0.36em">-12</text>
<text transform="translate(1267.4 115.3) rotate(-10) scale(1 1)" dy="0.36em">-10</text>
<text transform="translate(1315.9 120.3) rotate(-12) scale(1 1)" dy="0.36em">-9</text>
<text transform="translate(1367.7 125.8) rotate(-8) scale(1 1)" dy="0.36em">-8</text>
<text transform="translate(1431.3 133.8) rotate(-12) scale(1 1)" dy="0.36em">-7</text>
<text transform="translate(1517.5 143.5) rotate(-15) scale(1 1)" dy="0.36em">-6</text>
<text transform="translate(1598.1 164.9) rotate(-13) scale(1 1)" dy="0.36em">-5</text>
<text transform="translate(1589 205.7) rotate(-3) scale(1 1)" dy="0.36em">-4</text>
<text transform="translate(1587.9 242.3) rotate(3) scale(1 1)" dy="0.36em">-3</text>
<text transform="translate(1589 280.2) rotate(10) scale(1 1)" dy="0.36em">-2</text>
<text transform="translate(1587.9 321.5) rotate(15) scale(1 1)" dy="0.36em">-1</text>
<text transform="translate(1577.7 344.9) rotate(17) scale(1 1)" dy="0.36em">-0.5</text>
</g>
<g class="plot" id="plot-b">
<rect x="993.1" y="70.6" width="751.5" height="501.9" fill="none" stroke="#424242" stroke-width="2"/>
<path d="M1068.2 70.6v6.5M1068.2 572.5v-6.5M993.1 120.8h6.5M1744.6 120.8h-6.5M1143.4 70.6v6.5M1143.4 572.5v-6.5M993.1 171h6.5M1744.6 171h-6.5M1218.5 70.6v6.5M1218.5 572.5v-6.5M993.1 221.2h6.5M1744.6 221.2h-6.5M1293.7 70.6v6.5M1293.7 572.5v-6.5M993.1 271.4h6.5M1744.6 271.4h-6.5M1368.8 70.6v6.5M1368.8 572.5v-6.5M993.1 321.5h6.5M1744.6 321.5h-6.5M1444 70.6v6.5M1444 572.5v-6.5M993.1 371.7h6.5M1744.6 371.7h-6.5M1519.2 70.6v6.5M1519.2 572.5v-6.5M993.1 421.9h6.5M1744.6 421.9h-6.5M1594.3 70.6v6.5M1594.3 572.5v-6.5M993.1 472.1h6.5M1744.6 472.1h-6.5M1669.4 70.6v6.5M1669.4 572.5v-6.5M993.1 522.3h6.5M1744.6 522.3h-6.5" stroke="#424242" stroke-width="1.6" fill="none"/>
<g class="tick" font-family="'Liberation Sans', Arial, Helvetica, sans-serif" font-size="23" fill="#333333" stroke="#333333" stroke-width="0.45">
<text transform="translate(993.1 55.1) scale(1 1)" text-anchor="middle">0</text>
<text transform="translate(1068.2 55.1) scale(1 1)" text-anchor="middle">10</text>
<text transform="translate(1143.4 55.1) scale(1 1)" text-anchor="middle">20</text>
<text transform="translate(1218.5 55.1) scale(1 1)" text-anchor="middle">30</text>
<text transform="translate(1293.7 55.1) scale(1 1)" text-anchor="middle">40</text>
<text transform="translate(1368.8 55.1) scale(1 1)" text-anchor="middle">50</text>
<text transform="translate(1444 55.1) scale(1 1)" text-anchor="middle">60</text>
<text transform="translate(1519.2 55.1) scale(1 1)" text-anchor="middle">70</text>
<text transform="translate(1594.3 55.1) scale(1 1)" text-anchor="middle">80</text>
<text transform="translate(1669.4 55.1) scale(1 1)" text-anchor="middle">90</text>
<text transform="translate(1744.6 55.1) scale(1 1)" text-anchor="middle">100</text>
<text transform="translate(982.2 78.8) scale(1 1)" text-anchor="end">0</text>
<text transform="translate(982.2 129) scale(1 1)" text-anchor="end">10</text>
<text transform="translate(982.2 179.2) scale(1 1)" text-anchor="end">20</text>
<text transform="translate(982.2 229.4) scale(1 1)" text-anchor="end">30</text>
<text transform="translate(982.2 279.6) scale(1 1)" text-anchor="end">40</text>
<text transform="translate(982.2 329.7) scale(1 1)" text-anchor="end">50</text>
<text transform="translate(982.2 379.9) scale(1 1)" text-anchor="end">60</text>
<text transform="translate(982.2 430.1) scale(1 1)" text-anchor="end">70</text>
<text transform="translate(982.2 480.3) scale(1 1)" text-anchor="end">80</text>
<text transform="translate(982.2 530.5) scale(1 1)" text-anchor="end">90</text>
<text transform="translate(982.2 580.7) scale(1 1)" text-anchor="end">100</text>
</g>
<text class="ttl" transform="translate(1124.8 23.4) scale(1 1)" font-family="'Liberation Serif', 'Times New Roman', serif" font-size="29.8" fill="#2a2a2a" stroke="#2a2a2a" stroke-width="0.25" textLength="489.2" lengthAdjust="spacingAndGlyphs">Horizontal distance from the envelope/m</text>
<text class="ylab" transform="translate(930 322.9) rotate(-90) scale(1 1)" text-anchor="middle" font-family="'Liberation Serif', 'Times New Roman', serif" font-size="29.8" fill="#2a2a2a" stroke="#2a2a2a" stroke-width="0.25" textLength="104.5" lengthAdjust="spacingAndGlyphs">Depth/m</text>
<text class="cap" x="1146" y="631" font-family="'Liberation Serif', 'Times New Roman', serif" font-size="38.3" fill="#000" textLength="468" lengthAdjust="spacingAndGlyphs">(b) Convex deformation mode</text>
</g>
<clipPath id="clip-c"><rect x="86.8" y="788" width="751.4" height="542.4"/></clipPath>
<g clip-path="url(#clip-c)" fill="none" stroke-opacity="0.88" stroke-width="1.85" stroke-linecap="round" stroke-linejoin="round">
<path d="M93.4 791.8C93.8 792 94.5 792.4 95.6 792.8C96.7 793.2 98.5 793.9 100 794.3C101.4 794.7 102.7 795 104.1 795.3C105.5 795.6 106.5 795.8 108.3 796.1C110.1 796.4 113 796.8 114.8 797C116.6 797.2 117 797.3 119.2 797.4C121.5 797.4 125.9 797.4 128.1 797.4C130.3 797.3 130.6 797.3 132.4 797.1C134.2 796.9 136.6 796.7 138.7 796.3C140.8 796 143.3 795.5 145.2 795.1C147 794.7 148.1 794.4 149.6 794C151.1 793.6 152.6 793.1 154.1 792.6C155.6 792 157.5 791.3 158.6 790.7C159.7 790.2 160.2 789.9 160.8 789.5C161.3 789 161.9 788.2 162.1 788" stroke="#4b3cae"/>
<path d="M93.4 799.2C93.7 799.9 95 802.4 95.5 803.5C96 804.5 95.9 804.2 96.3 805.7C96.8 807.2 97.8 810.6 98.3 812.5C98.8 814.5 99 815.6 99.2 817.2C99.5 818.7 99.7 820.3 99.9 821.8C100.1 823.3 100.2 824.9 100.3 826.4C100.4 828 100.5 829.1 100.4 831.1C100.4 833 100.2 835.7 99.9 838C99.6 840.3 99.2 842.7 98.6 844.9C98.1 847.2 97.4 849.2 96.6 851.5C95.7 853.9 93.9 857.9 93.4 859.2" stroke="#4b3cae"/>
<path d="M93.1 879.8C93.6 879.3 95 878 95.9 877C96.8 876 97.8 874.9 98.8 873.7C99.7 872.5 100.9 870.9 101.6 869.8C102.2 868.8 102.4 868.4 102.8 867.6C103.3 866.8 103.5 866.4 104 865.2C104.5 864 105.4 862 105.9 860.4C106.5 858.8 107 856.9 107.3 855.7C107.6 854.5 107.4 855.8 107.8 853.2C108.2 850.5 109.2 843 109.5 839.7C109.9 836.4 109.9 834.7 110 833.2C110 831.7 110 832 109.9 830.9C109.8 829.8 110 830.3 109.3 826.4C108.7 822.5 106.5 811 106 807.5C105.5 804 106.1 806.1 106.3 805.4C106.6 804.6 107.2 803.7 107.7 803.2C108.2 802.7 108.8 802.5 109.5 802.4C110.2 802.2 110.5 802.3 111.6 802.4C112.8 802.4 113.4 802.4 116.6 802.9C119.9 803.3 128.8 804.8 131.2 805.2" stroke="#5a6af0"/>
<path d="M181.9 802.4C183.3 801.9 187.3 800.6 190.4 799.2C193.4 797.9 198 795.6 200.4 794.4C202.7 793.2 203.3 792.6 204.3 792C205.3 791.3 205.8 791 206.4 790.4C207.1 789.7 207.9 788.4 208.2 788" stroke="#5a6af0"/>
<path d="M93.1 890.8C94.3 889.9 98.5 886.9 100.2 885.5C101.8 884.1 102.2 883.5 103.2 882.4C104.1 881.3 105 880.2 105.9 879.1C106.7 878 107.4 876.8 108.1 875.6C108.8 874.4 109.5 873.2 110.1 872C110.7 870.7 111.3 869.4 111.8 868.1C112.3 866.8 112.8 865.5 113.3 864C113.8 862.6 114.4 861 114.8 859.4C115.2 857.9 115.4 857.4 115.8 854.9C116.2 852.4 116.9 846.7 117.2 844.3C117.5 841.8 117.6 841.5 117.7 840.1C117.7 838.7 117.8 837.7 117.8 835.9C117.8 834.2 117.7 832.2 117.6 829.7C117.5 827.2 117.1 822.7 117 820.8C116.9 818.9 117 819.2 117.1 818.5C117.2 817.7 117.4 816.9 117.7 816.2C118 815.5 118.5 814.8 119.1 814.2C119.7 813.7 120.5 813.3 121.3 812.9C122.1 812.5 122.7 812.3 123.9 812.1C125 811.9 126.4 811.7 128.3 811.7C130.2 811.6 131.4 811.5 135.3 811.7C139.2 811.9 145.4 812.4 151.6 812.7C157.7 813 168.8 813.4 172.3 813.5" stroke="#3f8eee"/>
<path d="M217 805.7C218.1 805.3 221.9 804 223.6 803.4C225.4 802.7 225.3 802.9 227.6 801.7C229.9 800.6 235.2 797.7 237.5 796.3C239.8 795 240.5 794.4 241.4 793.6C242.4 792.9 242.8 792.5 243.4 791.9C244 791.3 244.6 790.7 245 790C245.5 789.3 246 788.1 246.2 787.7" stroke="#3f8eee"/>
<path d="M93.1 898.6C94.5 897.6 99.6 894.3 101.5 892.9C103.5 891.5 103.7 891.2 104.8 890.2C105.9 889.2 107 888.2 107.9 887.1C108.9 886 109.9 884.9 110.7 883.8C111.6 882.6 112.4 881.4 113.2 880.2C114 879 114.8 877.7 115.5 876.5C116.1 875.2 116.7 874.2 117.4 872.6C118.1 870.9 119.1 868.3 119.7 866.7C120.2 865 120.5 864 120.8 862.6C121.2 861.2 121.5 860 121.8 858C122.1 856 122.3 855.1 122.8 850.6C123.3 846.1 124.3 835 124.8 831C125.2 826.9 125.3 827.2 125.6 826.1C125.9 824.9 126.1 824.6 126.5 824C126.8 823.3 127.3 822.6 127.9 822C128.4 821.4 129.1 820.8 129.7 820.4C130.4 819.9 131.1 819.6 131.8 819.3C132.6 819 133.4 818.8 134.2 818.6C135 818.5 135.6 818.3 136.7 818.2C137.8 818.1 137.5 818 140.7 817.9C143.9 817.9 148.6 817.8 155.8 817.9C163 818 177.7 818.5 184.1 818.6C190.6 818.6 192.7 818.4 194.4 818.4" stroke="#2ba6e0"/>
<path d="M244.9 811C245.9 810.6 249.1 809.4 251.2 808.5C253.2 807.7 255.6 806.6 257.2 805.8C258.8 805 259.2 804.8 261 803.7C262.8 802.6 266.3 800.3 268.1 799.1C269.8 798 270.3 797.5 271.4 796.7C272.5 795.8 273.5 795 274.5 794C275.4 793.1 276.3 792.1 277.1 791C277.9 790 278.8 788.3 279.1 787.7" stroke="#2ba6e0"/>
<path d="M93.1 906C94 905.5 97.2 904 98.7 903.1C100.2 902.3 101.1 901.8 102.2 901C103.4 900.3 104.5 899.5 105.5 898.6C106.6 897.8 107.6 896.9 108.7 896C109.7 895 110.8 894 111.8 892.9C112.9 891.8 114 890.6 115 889.4C116 888.2 116.9 886.9 117.8 885.7C118.7 884.4 119.5 883.1 120.3 881.8C121.1 880.5 121.8 879.2 122.4 877.9C123.1 876.5 123.4 875.9 124.2 874C124.9 872 126.2 868.5 126.9 866.2C127.6 863.8 127.9 862.9 128.5 859.9C129.1 856.9 129.9 851.2 130.5 848.1C131.1 845 131.7 843.2 132.2 841.3C132.7 839.4 133.1 838.3 133.6 836.9C134.1 835.5 134.8 833.9 135.2 833C135.6 832 135.8 831.8 136.2 831.3C136.6 830.8 136.9 830.3 137.4 829.9C137.8 829.5 138.3 829.1 138.8 828.7C139.3 828.4 139.6 828.2 140.5 827.8C141.4 827.4 143.1 826.9 144.4 826.6C145.8 826.2 147.1 826.1 148.5 825.9C149.9 825.8 150.8 825.7 153 825.6C155.3 825.6 157.7 825.5 162 825.5C166.4 825.5 174.5 825.7 179.2 825.8C183.8 825.8 181.2 825.9 189.9 825.8C198.6 825.6 224.4 825.1 231.3 825" stroke="#1ab6cc"/>
<path d="M281 815.3C282.3 814.9 286.6 813.7 288.9 812.9C291.1 812.1 292.7 811.4 294.5 810.6C296.4 809.7 297.9 808.9 299.9 807.6C301.9 806.4 304.7 804.5 306.6 803.2C308.5 801.8 309.8 800.7 311.3 799.3C312.8 798 314.5 796.2 315.5 794.9C316.6 793.6 317.1 792.7 317.8 791.5C318.5 790.3 319.2 788.3 319.5 787.7" stroke="#1ab6cc"/>
<path d="M93.1 910.3C95.1 909.3 102 905.8 104.9 904.2C107.8 902.5 108.9 901.5 110.3 900.4C111.8 899.3 112.5 898.5 113.6 897.5C114.7 896.5 115.8 895.4 116.8 894.2C117.9 893.1 119 891.8 120 890.6C121 889.3 121.9 888 122.8 886.7C123.7 885.3 124.5 884 125.2 882.6C126 881.2 126.7 879.8 127.4 878.4C128 877 128.5 875.8 129.2 874.1C129.8 872.4 130.5 870.8 131.3 868.1C132.1 865.4 133.2 861.8 134.1 857.7C135.1 853.5 136.2 846.4 136.9 843.3C137.6 840.2 137.9 840 138.3 839C138.7 837.9 139 837.7 139.3 837C139.7 836.4 140.1 835.9 140.6 835.3C141.1 834.8 141.6 834.3 142.1 833.8C142.6 833.4 143.1 833 143.7 832.7C144.2 832.3 144.8 832 145.4 831.7C145.9 831.5 146.2 831.3 147.2 831C148.2 830.8 149.9 830.3 151.3 830.1C152.6 829.9 154.1 829.7 155.4 829.6C156.7 829.5 156.3 829.4 159.1 829.4C161.9 829.3 165.6 829.2 172 829.2C178.5 829.3 191.2 829.6 197.7 829.7C204.3 829.7 206.5 829.7 211.2 829.6C215.9 829.5 221.2 829.5 226 829.2C230.9 829 236.1 828.5 240.3 828.3C244.5 828.1 249.3 828.1 251.1 828" stroke="#22bdbb"/>
<path d="M302.8 818.4C304.2 818 308.6 816.8 311.1 816C313.5 815.2 315.2 814.4 317.2 813.5C319.3 812.6 321 811.7 323.2 810.4C325.4 809.1 328.5 807.1 330.6 805.6C332.7 804.1 334.2 802.9 335.8 801.5C337.5 800 339.3 798.2 340.5 796.8C341.7 795.5 342.5 794.2 343.1 793.3C343.8 792.5 343.9 792.1 344.3 791.5C344.6 790.8 344.9 790.3 345.1 789.6C345.4 789 345.6 788 345.7 787.7" stroke="#22bdbb"/>
<path d="M93.1 917.7C95.1 917 102.3 914.6 104.8 913.7C107.4 912.8 107.3 912.8 108.5 912.2C109.7 911.7 110.9 911.1 112 910.4C113.2 909.7 114.3 909 115.4 908.2C116.5 907.4 117.5 906.6 118.6 905.7C119.6 904.8 120.7 903.8 121.7 902.7C122.7 901.7 123.8 900.6 124.7 899.5C125.7 898.4 126.5 897.5 127.6 896.1C128.6 894.7 130.3 892.4 131.3 890.9C132.3 889.4 132.8 888.4 133.5 887.2C134.2 885.9 134.7 885.2 135.6 883.2C136.5 881.1 137.5 879 139.1 874.8C140.7 870.7 143.7 861.6 145 858.1C146.3 854.7 146.1 855.5 146.7 854.2C147.3 852.9 147.9 851.6 148.6 850.4C149.3 849.2 150.1 848 150.9 847C151.8 845.9 153 844.8 153.7 844.2C154.5 843.5 154.5 843.5 155.3 843C156.2 842.5 157.6 841.8 158.8 841.3C160 840.8 161.3 840.5 162.6 840.2C163.9 839.8 164.8 839.6 166.5 839.4C168.2 839.2 170.6 839 172.6 838.8C174.7 838.7 175.7 838.6 178.9 838.6C182.1 838.5 181 838.5 191.6 838.6C202.3 838.7 232.6 839.2 242.8 839.3C253 839.5 249.4 839.4 252.7 839.3C256.1 839.2 259.5 839.1 262.9 839C266.4 838.9 269.5 838.7 273.3 838.5C277.1 838.2 279.9 838.1 285.7 837.6C291.6 837 304.5 835.6 308.3 835.2" stroke="#46c590"/>
<path d="M358.1 825.3C359.8 824.6 365.2 822.8 368.6 821.4C371.9 820 375.4 818.4 378.2 817C381.1 815.5 383.2 814.3 385.6 812.8C388.1 811.3 391 809.2 392.8 807.9C394.5 806.7 395.1 806.1 396.2 805.2C397.3 804.2 398.2 803.6 399.5 802.2C400.8 800.9 402.9 798.7 404.1 797.2C405.3 795.8 405.9 794.7 406.7 793.4C407.4 792.2 408.2 790.5 408.6 789.6C409 788.6 409 788 409.1 787.7" stroke="#46c590"/>
<path d="M93.1 922C95.2 921.3 102.8 918.9 105.6 918C108.3 917.1 108.2 917 109.6 916.5C110.9 915.9 112.2 915.3 113.5 914.6C114.8 913.9 116 913.2 117.3 912.5C118.5 911.7 119.7 910.9 120.9 910C122 909.1 123.2 908.1 124.3 907.1C125.4 906.1 126.5 905.1 127.5 904C128.6 903 129.5 901.9 130.5 900.7C131.4 899.6 132.1 898.8 133.1 897.3C134.2 895.7 135.9 893.2 136.9 891.6C137.9 889.9 138.3 889.2 139.2 887.4C140.1 885.6 140.6 884.8 142.2 880.8C143.8 876.9 147.3 867.3 148.7 863.8C150.1 860.3 149.9 861.1 150.6 859.8C151.3 858.6 152.1 857.3 152.9 856.1C153.8 854.9 154.7 853.8 155.6 852.8C156.5 851.7 157.5 850.8 158.6 849.9C159.7 849.1 160.8 848.3 162 847.7C163.2 847.1 164.5 846.6 165.7 846.1C167 845.7 168 845.4 169.7 845.1C171.3 844.8 173.7 844.4 175.7 844.2C177.8 844 179.5 843.9 181.9 843.8C184.4 843.7 184.6 843.6 190.4 843.6C196.1 843.7 205.5 843.8 216.5 844.2C227.6 844.6 248.2 845.8 256.6 846.2C265 846.5 263.1 846.3 266.9 846.3C270.8 846.3 274.7 846.2 279.5 846C284.4 845.8 290.4 845.5 296.3 845.1C302.2 844.7 308.7 844.1 314.9 843.5C321.1 842.9 326.6 842.3 333.4 841.5C340.2 840.7 351.9 839.1 355.6 838.6" stroke="#70c871"/>
<path d="M394.2 829.6C395.9 829 401.3 827 404.2 825.8C407.2 824.6 409.1 823.7 411.8 822.3C414.6 820.9 418.3 819 420.9 817.4C423.6 815.8 425.5 814.5 427.7 812.8C429.9 811.2 432.1 809.5 434.2 807.7C436.2 805.8 438.4 803.6 440.1 801.8C441.8 800 442.7 799 444.3 796.9C445.8 794.8 448.2 791 449.3 789.5C450.4 787.9 450.6 787.8 450.9 787.5" stroke="#70c871"/>
<path d="M93.1 926.6C95.3 926 103.3 923.7 106.2 922.9C109.1 922 109 922 110.3 921.5C111.6 921 112.9 920.4 114.2 919.8C115.4 919.2 116.4 918.8 117.8 917.9C119.3 917.1 121.2 915.9 122.8 914.8C124.4 913.6 126.2 912.2 127.5 911.2C128.8 910.1 129.3 909.7 130.6 908.5C131.8 907.3 133.8 905.4 135 904.1C136.2 902.8 136.9 901.9 137.8 900.8C138.7 899.7 139.4 898.8 140.4 897.4C141.4 895.9 142.7 894.1 143.9 892C145.2 889.8 146.1 888.4 147.9 884.5C149.8 880.7 153.5 872.1 155.1 868.8C156.6 865.6 156.4 866.3 157.1 865.1C157.8 863.9 158.5 862.8 159.3 861.7C160.2 860.6 161 859.6 161.9 858.7C162.9 857.8 163.9 856.9 164.9 856.2C166 855.4 167.4 854.7 168.2 854.2C169.1 853.7 169.1 853.8 170 853.4C170.9 853.1 172.4 852.5 173.7 852.2C175 851.9 176 851.7 177.7 851.4C179.4 851.2 181.8 850.9 183.9 850.7C186 850.5 187.5 850.5 190.4 850.4C193.3 850.3 196.7 850.2 201.3 850.2C205.9 850.3 210.1 850.3 218 850.7C225.9 851.1 240.8 852.2 248.7 852.7C256.5 853.1 258.7 853.2 265.2 853.4C271.8 853.5 279.7 853.6 288 853.5C296.3 853.4 307.4 853.1 315 852.9C322.6 852.6 326.7 852.5 333.7 852C340.6 851.6 348.6 850.9 356.5 850.2C364.4 849.4 373.8 848.4 381.2 847.6C388.6 846.7 397.7 845.3 401 844.9" stroke="#95c753"/>
<path d="M438.3 835.8C440.5 835 447.9 832.5 451.7 831C455.5 829.6 458 828.4 461.1 826.9C464.2 825.4 467.8 823.4 470.2 822C472.7 820.6 474.1 819.6 475.6 818.6C477 817.7 477.6 817.2 479 816.2C480.4 815.1 482.5 813.4 483.9 812.3C485.2 811.2 485.7 810.7 487 809.5C488.3 808.3 490.3 806.3 491.5 805.1C492.7 803.8 493.4 803 494.3 801.9C495.2 800.9 496.1 799.8 496.9 798.6C497.8 797.5 498.6 796.3 499.3 795.1C500.1 793.8 500.8 792.5 501.4 791.2C502 790 502.8 788.1 503.1 787.5" stroke="#95c753"/>
<path d="M93.1 931.6C95.4 931 103.6 929.1 107.2 928.1C110.8 927 112.8 926.3 114.7 925.6C116.6 924.9 117.3 924.5 118.5 923.9C119.7 923.3 120.7 922.8 122.1 921.9C123.6 921 125.8 919.6 127.2 918.6C128.7 917.6 129.2 917.2 130.6 916.2C132 915.1 134.2 913.3 135.5 912.1C136.9 910.9 137.4 910.4 138.7 909.1C140 907.7 141.8 905.8 143.2 904.2C144.7 902.5 145.8 901.1 147.3 899.1C148.8 897 149.8 895.8 152.1 892C154.3 888.2 158.9 879.7 160.8 876.4C162.7 873.2 162.5 873.9 163.4 872.6C164.3 871.4 165.3 870.2 166.3 869.1C167.4 868 168.8 866.7 169.7 866C170.5 865.2 170.5 865.2 171.5 864.6C172.4 864 173.7 863 175.3 862.2C177 861.4 179.4 860.3 181.5 859.6C183.6 858.8 185.8 858.3 187.9 857.9C190.1 857.4 192.2 857.2 194.3 856.9C196.5 856.7 197.9 856.5 200.7 856.4C203.6 856.3 207.8 856.1 211.3 856.1C214.7 856.1 217.5 856.1 221.6 856.2C225.8 856.4 227.5 856.3 236.2 857C244.8 857.6 262.8 859.1 273.5 859.9C284.2 860.6 291.5 861 300.4 861.4C309.4 861.7 318.8 862.1 327.4 862.2C336.1 862.3 346.1 862.2 352.3 862.1C358.5 862.1 360.6 861.9 364.7 861.8C368.9 861.6 371.3 861.5 377.1 861.1C383 860.7 389.3 860.4 400.1 859.4C410.9 858.3 434 855.6 442 854.7C450 853.7 445.8 854.2 448.3 853.8C450.8 853.4 455.5 852.5 457 852.2" stroke="#b6c241"/>
<path d="M494.5 843.4C496.9 842.6 505.2 840 508.9 838.7C512.6 837.4 514.6 836.6 516.9 835.6C519.2 834.7 520.9 833.9 522.8 833C524.8 832.1 526.7 831.2 528.6 830.2C530.5 829.3 532.4 828.3 534.2 827.2C536.1 826.1 537.9 825 539.7 823.8C541.5 822.7 543.3 821.5 545 820.2C546.7 818.9 548.4 817.6 550 816.2C551.6 814.8 553.1 813.4 554.6 811.9C556.1 810.4 557.5 808.9 558.9 807.4C560.2 805.8 561.7 803.9 562.7 802.5C563.7 801.1 564.2 800.2 564.9 799.1C565.6 797.9 566.3 796.7 566.8 795.5C567.4 794.2 567.9 793 568.2 791.7C568.6 790.4 568.8 788.2 568.9 787.5" stroke="#b6c241"/>
<path d="M93.1 936.2C95.4 935.6 103.4 933.7 107.1 932.7C110.7 931.6 113.1 930.6 115.1 929.8C117.1 929 117.5 928.8 119.2 928C120.8 927.2 123.2 926.1 125.1 925C127 924 129.3 922.6 130.8 921.7C132.4 920.7 132.7 920.5 134.5 919.3C136.2 918 139.2 915.7 141.1 914.1C142.9 912.6 144.4 911.1 145.6 909.8C146.8 908.6 147.1 908.4 148.4 906.7C149.8 905.1 151.3 903.3 153.7 900C156 896.7 160.4 889.7 162.3 886.9C164.2 884.1 163.8 884.6 165.1 883.1C166.3 881.6 168.3 879.2 169.6 877.8C170.9 876.4 172 875.4 172.8 874.7C173.7 873.9 173.7 873.9 174.5 873.3C175.4 872.6 176.6 871.7 178.1 870.9C179.7 870 181.8 868.8 183.7 868.1C185.7 867.3 187.6 866.7 189.6 866.2C191.5 865.6 193.5 865.3 195.5 864.9C197.5 864.6 199.1 864.4 201.4 864.2C203.7 864 206.7 863.8 209.4 863.7C212 863.6 214.7 863.6 217.5 863.7C220.2 863.7 221.9 863.7 225.7 863.9C229.5 864.1 230.3 864 240.3 864.9C250.4 865.9 273.8 868.6 285.9 869.7C298 870.9 305.3 871.3 312.9 871.8C320.5 872.3 325.7 872.6 331.6 872.9C337.5 873.1 342.6 873.4 348.2 873.5C353.7 873.7 359.2 873.8 364.7 873.9C370.3 874 375.7 874 381.3 873.9C386.8 873.9 392 873.8 398 873.6C403.9 873.4 410.8 873.2 417 872.9C423.2 872.6 428.4 872.3 435.1 871.8C441.8 871.4 449.6 870.8 457.1 870.2C464.6 869.6 473 868.9 480.2 868.2C487.5 867.5 494.6 866.8 500.7 866.1C506.8 865.5 511.8 864.8 516.9 864.1C521.9 863.4 528.5 862.4 530.8 862" stroke="#d6bc3c"/>
<path d="M568.9 852.2C570.9 851.6 577.4 849.5 580.7 848.5C584 847.4 585.9 846.7 588.5 845.7C591.2 844.8 593.8 843.8 596.4 842.7C599 841.7 601.6 840.6 604.2 839.5C606.7 838.3 609.6 837 611.8 835.9C614 834.8 615.5 834 617.3 832.9C619.2 831.9 620.9 830.8 622.7 829.7C624.4 828.6 625.9 827.6 627.8 826.2C629.7 824.7 632.3 822.6 634.1 821C635.9 819.5 637.1 818.2 638.5 816.8C639.9 815.3 641.2 813.8 642.5 812.3C643.8 810.7 645 809.1 646.1 807.5C647.2 805.8 648.3 804.1 649.3 802.4C650.2 800.7 651.2 798.6 651.9 797.1C652.5 795.6 652.7 794.9 653.1 793.3C653.6 791.7 654.3 788.5 654.5 787.5" stroke="#d6bc3c"/>
<path d="M93.1 941.5C94.1 941.2 97.6 940.4 99.3 939.9C101 939.5 101.1 939.5 103.5 938.7C105.9 937.8 111 935.9 113.7 934.8C116.5 933.6 117.9 933 120 932C122 931 124.1 930 126.1 929C128.2 927.9 130.2 926.9 132.1 925.8C134.1 924.7 136.3 923.3 137.8 922.3C139.4 921.4 140 921 141.4 919.9C142.9 918.9 145.1 917.2 146.5 916.1C147.9 915.1 148.4 914.6 149.6 913.5C150.9 912.3 152.4 910.9 154.1 909.2C155.7 907.4 156.9 906.3 159.5 902.9C162.1 899.6 167.4 892.4 169.9 889.3C172.3 886.2 173 885.8 174.3 884.5C175.6 883.3 176.2 882.8 177.6 881.7C179.1 880.6 181.2 879.1 183.1 878.1C185.1 877 187.1 876.1 189.1 875.4C191.1 874.6 193.5 874 195.2 873.5C196.9 873.1 197.9 872.9 199.2 872.7C200.6 872.4 201.6 872.3 203.3 872.1C204.9 871.9 206.9 871.7 209.3 871.6C211.7 871.4 214.7 871.3 217.5 871.3C220.2 871.3 222.6 871.3 225.7 871.5C228.8 871.6 232.3 871.8 236.1 872.2C240 872.5 239.7 872.4 248.6 873.6C257.6 874.8 279.4 877.8 290.1 879.2C300.8 880.6 304.9 881 312.9 881.9C320.9 882.8 329.5 883.7 337.8 884.4C346.1 885.1 355.1 885.7 362.7 886.2C370.3 886.7 376.4 887 383.4 887.4C390.3 887.7 388.5 887.8 404.3 888.1C420.2 888.5 463 889.3 478.6 889.6C494.1 889.8 491.1 889.6 497.7 889.4C504.4 889.3 511.5 889 518.4 888.7C525.4 888.4 532.3 888 539.3 887.5C546.3 887 553.4 886.4 560.3 885.7C567.2 885.1 574.4 884.3 580.9 883.6C587.4 882.9 593.2 882.1 599.2 881.3C605.1 880.4 610.9 879.5 616.8 878.5C622.6 877.5 631.2 875.7 634.1 875.2" stroke="#f0b942"/>
<path d="M670.4 865.4C672.6 864.7 680.4 862.3 683.9 861.1C687.4 860 688.7 859.6 691.6 858.5C694.4 857.5 698.2 856 701.1 854.8C703.9 853.7 705.9 852.9 708.7 851.6C711.5 850.3 715.2 848.5 718 847.1C720.8 845.7 722.6 844.7 725.3 843.1C727.9 841.6 731.5 839.4 734 837.8C736.6 836.1 738.6 834.7 740.8 833.1C743 831.5 745.1 829.9 747.2 828.1C749.2 826.4 751.3 824.7 753.2 822.8C755.2 821 757.1 819.1 758.9 817.1C760.7 815.1 762.5 813.1 764.1 810.9C765.8 808.8 767.6 806.3 768.9 804.4C770.2 802.4 771.2 800.6 772 799.1C772.9 797.6 773.1 797.3 773.9 795.3C774.8 793.4 776.6 788.8 777.1 787.5" stroke="#f0b942"/>
<path d="M93.1 947.2C95.4 946.7 103.4 944.9 107 943.9C110.6 942.9 111.5 942.6 114.7 941.4C117.8 940.1 122.1 938.2 126 936.4C129.8 934.5 134.4 932.3 137.9 930.3C141.5 928.4 145 926.2 147.4 924.6C149.9 923 151.2 921.9 152.6 920.9C154 919.8 154.8 919.2 155.8 918.3C156.9 917.4 157.7 916.7 158.9 915.5C160.2 914.4 160.5 914.2 163.3 911.2C166.1 908.2 172.8 900.6 175.7 897.6C178.5 894.7 179 894.5 180.4 893.4C181.7 892.3 182.3 891.8 183.8 890.8C185.4 889.8 187.9 888.4 189.5 887.5C191.1 886.7 192.1 886.3 193.4 885.8C194.7 885.3 196 884.8 197.4 884.4C198.7 884 200 883.6 201.3 883.3C202.7 883 203.3 882.8 205.3 882.5C207.3 882.3 210.6 881.8 213.3 881.6C216 881.4 218.8 881.3 221.5 881.3C224.3 881.2 227.1 881.3 229.9 881.4C232.6 881.5 235.4 881.7 238.2 881.9C241 882.2 242.7 882.3 246.6 882.8C250.4 883.2 252.1 883.4 261.1 884.7C270.1 886 289.4 889 300.4 890.6C311.5 892.2 318.1 893.1 327.4 894.4C336.8 895.6 346.1 896.7 356.5 897.9C366.8 899.1 379.2 900.5 389.6 901.6C400 902.6 406.4 903.1 419 904.2C431.6 905.2 452.9 906.8 465.4 907.7C477.8 908.7 484.7 909.1 493.6 909.7C502.4 910.3 510.1 910.8 518.4 911.2C526.7 911.7 535.6 912.1 543.2 912.4C550.7 912.8 557.3 913 563.8 913.2C570.4 913.4 576.3 913.4 582.5 913.5C588.8 913.5 595.1 913.5 601.3 913.5C607.5 913.4 613.7 913.3 619.8 913.1C626 912.9 631.5 912.6 638.2 912.2C644.9 911.8 656.5 911 660.2 910.8" stroke="#f9be42"/>
<path d="M701.1 907.4C706.1 906.7 721.8 904.5 731.1 903C740.4 901.4 745.8 900.5 757.2 898.3C768.5 896.2 785.4 892.9 799.1 890C812.8 887.1 832.8 882.6 839.5 881.1" stroke="#f9be42"/>
<path d="M93.4 953.8C94.2 953.8 96.4 953.9 97.9 953.8C99.4 953.8 101 953.6 102.5 953.3C103.9 953.1 105 952.9 106.8 952.5C108.6 952 110.7 951.4 113.1 950.6C115.6 949.9 118.8 948.8 121.6 947.8C124.4 946.8 127.1 945.8 129.7 944.7C132.4 943.6 135.3 942.2 137.6 941.1C139.9 940 140.9 939.5 143.4 938.1C145.9 936.7 150.3 934.1 152.7 932.6C155.2 931.1 156.6 930 158.1 928.9C159.5 927.9 159.8 927.7 161.5 926.3C163.2 924.9 164.7 923.8 168.1 920.7C171.5 917.6 178.9 910.5 182 907.6C185.1 904.8 185.2 905 186.8 903.7C188.5 902.5 190.2 901.3 192 900.3C193.8 899.2 196 898.2 197.6 897.5C199.2 896.8 200.1 896.4 201.4 896C202.7 895.5 204.1 895.1 205.4 894.8C206.7 894.4 208 894.1 209.4 893.8C210.7 893.5 211.4 893.3 213.4 893.1C215.5 892.8 218.6 892.4 221.7 892.2C224.9 892 229.1 891.8 232.2 891.8C235.3 891.7 237.7 891.8 240.5 892C243.2 892.1 245.9 892.3 248.7 892.5C251.4 892.8 253.7 893 256.8 893.4C259.9 893.9 262.2 894.2 267 895C271.9 895.8 273 895.9 285.8 898.4C298.6 900.9 329.6 907.1 344 909.8C358.4 912.5 365 913.5 372.4 914.8C379.8 916 383.7 916.6 388.4 917.3C393.1 917.9 393.3 918 400.5 918.7C407.7 919.5 424.4 921 431.7 921.8C439 922.5 429.8 921.2 444.2 923.3C458.7 925.4 501.6 932 518.4 934.4C535.3 936.9 536.6 937 545.2 938.1C553.8 939.2 561.7 940.2 570 941.2C578.4 942.1 587.5 943.1 595.1 943.9C602.7 944.7 609.3 945.3 615.8 945.8C622.4 946.4 627.3 946.8 634.5 947.3C641.7 947.7 655 948.5 659.1 948.7" stroke="#f8cc3b"/>
<path d="M699.9 951C706.1 951.2 725.8 952 737.1 952.3C748.3 952.6 757.2 952.7 767.2 952.7C777.2 952.8 785 952.7 797.1 952.4C809.2 952.2 832.4 951.4 839.5 951.2" stroke="#f8cc3b"/>
<path d="M93.4 961C95.1 961 100.5 961.2 103.7 961.1C106.8 961 110.1 960.7 112.2 960.5C114.4 960.3 115.6 960 116.7 959.8C117.8 959.6 117.5 959.7 118.8 959.2C120.2 958.8 119.4 959.6 124.9 957C130.3 954.3 145.5 946.4 151.4 943.3C157.4 940.1 158.3 939.5 160.8 938.1C163.2 936.6 164.4 935.8 166.2 934.7C168 933.5 168.1 933.6 171.6 931C175.2 928.4 184 921.6 187.6 919C191.1 916.4 191.1 916.5 192.8 915.4C194.6 914.2 196.4 913.2 198.2 912.2C200.1 911.3 201.9 910.4 203.8 909.7C205.8 908.9 208.1 908.2 209.7 907.7C211.3 907.1 212.4 906.9 213.7 906.6C215.1 906.3 216.1 906 217.8 905.7C219.6 905.4 222 905 224.1 904.7C226.1 904.4 228.2 904.2 230.3 904C232.4 903.8 233.7 903.7 236.4 903.6C239.1 903.6 243.9 903.6 246.6 903.6C249.3 903.7 250.3 903.8 252.6 904C255 904.2 257.1 904.4 260.9 904.9C264.6 905.5 270.2 906.3 275.4 907.4C280.5 908.4 280.5 908.3 291.9 911.1C303.3 913.8 330.2 920.7 344 923.9C357.7 927.2 366.3 929 374.4 930.7C382.4 932.4 383.6 932.6 392.5 934C401.3 935.4 419.2 937.8 427.4 939.1C435.7 940.3 437.1 940.7 441.9 941.6C446.7 942.5 447 942.5 455.9 944.6C464.8 946.6 476.5 949.7 495.3 953.8C514 958 549.2 965.4 568.3 969.4C587.5 973.3 594.8 974.6 610.1 977.5C625.5 980.3 651.9 984.9 660.2 986.4" stroke="#f5dd36"/>
<path d="M699.9 992.5C706.4 993.6 727.5 997.4 739.1 999.3C750.6 1001.2 759.2 1002.5 769.2 1003.8C779.2 1005.2 787.4 1006.2 799.1 1007.5C810.8 1008.8 832.8 1010.9 839.5 1011.6" stroke="#f5dd36"/>
<path d="M93.4 971.2C95 971.4 100.6 972.2 103 972.5C105.3 972.7 106 972.6 107.5 972.6C109 972.6 110.4 972.6 111.8 972.5C113.3 972.4 114.3 972.3 116 972C117.7 971.7 120.3 971.1 122 970.7C123.7 970.4 124.4 970.2 126 969.6C127.7 969.1 129.7 968.5 132.1 967.6C134.4 966.6 137.4 965.4 140 964.1C142.7 962.8 143.9 962.2 147.9 959.8C152 957.4 156.1 954.5 164.2 949.6C172.2 944.7 189.6 934.3 196.2 930.5C202.8 926.7 201.2 927.9 203.8 926.8C206.4 925.7 209.8 924.5 211.8 923.8C213.8 923.1 214.2 923 215.9 922.5C217.6 922 220 921.4 222.1 920.9C224.2 920.5 226.2 920 228.3 919.7C230.4 919.3 232.4 919 234.4 918.8C236.5 918.5 238.8 918.4 240.5 918.2C242.2 918.1 242.9 918.1 244.5 918.1C246.2 918.1 248.6 918.1 250.6 918.2C252.6 918.3 254.7 918.5 256.7 918.7C258.8 918.9 260.5 919.1 262.9 919.4C265.3 919.8 267.1 920 271.2 920.8C275.4 921.6 280.8 922.7 287.8 924.4C294.7 926.1 296.4 926.5 312.8 931C329.2 935.6 371.8 947.8 386.4 951.8C401 955.8 393 953.5 400.5 955.1C408.1 956.6 423.7 959.6 431.6 961.3C439.5 963 443.2 964.1 448 965.3C452.7 966.5 451.3 966.1 459.9 968.7C468.4 971.3 480.5 975.1 499.2 980.8C518 986.4 545.1 994.9 572.3 1002.7C599.5 1010.5 647.5 1023.5 662.5 1027.7" stroke="#f4ec33"/>
<path d="M701.1 1039.1C715.4 1042.9 769.1 1057.1 787.1 1061.8C805.1 1066.5 800.4 1065.2 809.1 1067.3C817.9 1069.4 834.4 1073.3 839.5 1074.5" stroke="#f4ec33"/>
<path d="M93.4 978.6C94.7 979 99.3 980.3 101.3 980.8C103.3 981.2 104 981.3 105.4 981.4C106.8 981.6 108.3 981.7 109.7 981.7C111.1 981.7 112.5 981.6 113.9 981.4C115.3 981.3 115.9 981.3 118 980.8C120 980.4 123.4 979.7 126 978.9C128.7 978.1 131.4 977.1 134 976C136.6 975 139.1 973.7 141.5 972.5C144 971.2 145.1 970.6 148.6 968.4C152.1 966.2 159.4 961.2 162.6 959.1C165.9 957 162.6 958.9 168.1 955.8C173.7 952.6 190.5 943.3 196.1 940.2C201.8 937.1 199.9 938.3 201.8 937.4C203.8 936.5 205.7 935.7 207.7 935C209.7 934.2 211.7 933.5 213.7 932.9C215.8 932.2 217.5 931.7 219.9 931.1C222.3 930.5 225.8 929.7 228.2 929.3C230.6 928.8 232.4 928.5 234.4 928.2C236.4 927.9 238.5 927.7 240.5 927.6C242.5 927.5 244.5 927.4 246.6 927.4C248.6 927.4 250.6 927.5 252.6 927.6C254.7 927.8 255.7 927.8 258.8 928.2C261.9 928.7 266.7 929.4 271.2 930.3C275.7 931.2 281.5 932.6 285.5 933.6C289.6 934.7 288.5 934.3 295.5 936.5C302.5 938.6 313.3 942.2 327.5 946.5C341.6 950.9 368.9 959.2 380.4 962.6C391.9 966 388 964.7 396.5 966.8C405 968.8 424.4 973 431.6 974.7C438.8 976.3 436.8 976 439.9 976.8C442.9 977.6 445.3 978.2 450 979.7C454.6 981.1 449 979.1 467.8 985.4C486.5 991.7 536.9 1008.9 562.4 1017.4C587.9 1025.9 607.8 1032.2 620.8 1036.6C633.9 1041 637.6 1042.4 640.9 1043.6" stroke="#f6f530"/>
<path d="M703.3 1065.2C709.3 1067.1 722.7 1071.5 739 1076.6C755.3 1081.6 784.5 1090.1 801.1 1095.2C817.6 1100.4 832.3 1105.5 838.5 1107.5" stroke="#f6f530"/>
</g>
<g class="clab" font-family="'Liberation Sans', Arial, Helvetica, sans-serif" font-size="23" fill="#000" stroke="#000" stroke-width="0.35" text-anchor="middle">
<text transform="translate(158 804.8) rotate(3) scale(1 1.1)" dy="0.36em">-20</text>
<text transform="translate(190.7 810.3) rotate(5) scale(1 1.1)" dy="0.36em">-17</text>
<text transform="translate(220.2 814.9) rotate(5) scale(1 1.1)" dy="0.36em">-15</text>
<text transform="translate(254.9 820.9) rotate(-3) scale(1 1.1)" dy="0.36em">-13</text>
<text transform="translate(279.7 823) rotate(-8) scale(1 1.1)" dy="0.36em">-12</text>
<text transform="translate(333.8 830.2) rotate(-8) scale(1 1.1)" dy="0.36em">-10</text>
<text transform="translate(375.5 834.6) rotate(-10) scale(1 1.1)" dy="0.36em">-9</text>
<text transform="translate(419.7 840.2) rotate(-10) scale(1 1.1)" dy="0.36em">-8</text>
<text transform="translate(475.2 847.2) rotate(-10) scale(1 1.1)" dy="0.36em">-7</text>
<text transform="translate(551.2 856.3) rotate(-13) scale(1 1.1)" dy="0.36em">-6</text>
<text transform="translate(653.4 869.9) rotate(-15) scale(1 1.1)" dy="0.36em">-5</text>
<text transform="translate(680.6 910.3) rotate(-5) scale(1 1.1)" dy="0.36em">-4</text>
<text transform="translate(680.2 951) rotate(0) scale(1 1.1)" dy="0.36em">-3</text>
<text transform="translate(680.6 990.9) rotate(8) scale(1 1.1)" dy="0.36em">-2</text>
<text transform="translate(681.8 1034.1) rotate(15) scale(1 1.1)" dy="0.36em">-1</text>
<text transform="translate(671.6 1056.1) rotate(18) scale(1 1.1)" dy="0.36em">-0.5</text>
</g>
<g class="plot" id="plot-c">
<rect x="86.8" y="788" width="751.4" height="542.4" fill="none" stroke="#424242" stroke-width="2"/>
<path d="M161.9 788v6.5M161.9 1330.4v-6.5M86.8 842.2h6.5M838.2 842.2h-6.5M237.1 788v6.5M237.1 1330.4v-6.5M86.8 896.5h6.5M838.2 896.5h-6.5M312.2 788v6.5M312.2 1330.4v-6.5M86.8 950.7h6.5M838.2 950.7h-6.5M387.4 788v6.5M387.4 1330.4v-6.5M86.8 1005h6.5M838.2 1005h-6.5M462.5 788v6.5M462.5 1330.4v-6.5M86.8 1059.2h6.5M838.2 1059.2h-6.5M537.6 788v6.5M537.6 1330.4v-6.5M86.8 1113.4h6.5M838.2 1113.4h-6.5M612.8 788v6.5M612.8 1330.4v-6.5M86.8 1167.7h6.5M838.2 1167.7h-6.5M687.9 788v6.5M687.9 1330.4v-6.5M86.8 1221.9h6.5M838.2 1221.9h-6.5M763.1 788v6.5M763.1 1330.4v-6.5M86.8 1276.2h6.5M838.2 1276.2h-6.5" stroke="#424242" stroke-width="1.6" fill="none"/>
<g class="tick" font-family="'Liberation Sans', Arial, Helvetica, sans-serif" font-size="23" fill="#333333" stroke="#333333" stroke-width="0.45">
<text transform="translate(86.8 770.7) scale(1 1.1)" text-anchor="middle">0</text>
<text transform="translate(161.9 770.7) scale(1 1.1)" text-anchor="middle">10</text>
<text transform="translate(237.1 770.7) scale(1 1.1)" text-anchor="middle">20</text>
<text transform="translate(312.2 770.7) scale(1 1.1)" text-anchor="middle">30</text>
<text transform="translate(387.4 770.7) scale(1 1.1)" text-anchor="middle">40</text>
<text transform="translate(462.5 770.7) scale(1 1.1)" text-anchor="middle">50</text>
<text transform="translate(537.6 770.7) scale(1 1.1)" text-anchor="middle">60</text>
<text transform="translate(612.8 770.7) scale(1 1.1)" text-anchor="middle">70</text>
<text transform="translate(687.9 770.7) scale(1 1.1)" text-anchor="middle">80</text>
<text transform="translate(763.1 770.7) scale(1 1.1)" text-anchor="middle">90</text>
<text transform="translate(838.2 770.7) scale(1 1.1)" text-anchor="middle">100</text>
<text transform="translate(75.9 796.8) scale(1 1.1)" text-anchor="end">0</text>
<text transform="translate(75.9 851) scale(1 1.1)" text-anchor="end">10</text>
<text transform="translate(75.9 905.3) scale(1 1.1)" text-anchor="end">20</text>
<text transform="translate(75.9 959.5) scale(1 1.1)" text-anchor="end">30</text>
<text transform="translate(75.9 1013.7) scale(1 1.1)" text-anchor="end">40</text>
<text transform="translate(75.9 1068) scale(1 1.1)" text-anchor="end">50</text>
<text transform="translate(75.9 1122.2) scale(1 1.1)" text-anchor="end">60</text>
<text transform="translate(75.9 1176.5) scale(1 1.1)" text-anchor="end">70</text>
<text transform="translate(75.9 1230.7) scale(1 1.1)" text-anchor="end">80</text>
<text transform="translate(75.9 1284.9) scale(1 1.1)" text-anchor="end">90</text>
<text transform="translate(75.9 1339.2) scale(1 1.1)" text-anchor="end">100</text>
</g>
<text class="ttl" transform="translate(218.2 736.7) scale(1 1.1)" font-family="'Liberation Serif', 'Times New Roman', serif" font-size="29.8" fill="#2a2a2a" stroke="#2a2a2a" stroke-width="0.25" textLength="489.2" lengthAdjust="spacingAndGlyphs">Horizontal distance from the envelope/m</text>
<text class="ylab" transform="translate(23.6 1059) rotate(-90) scale(1.1 1)" text-anchor="middle" font-family="'Liberation Serif', 'Times New Roman', serif" font-size="29.8" fill="#2a2a2a" stroke="#2a2a2a" stroke-width="0.25" textLength="105.6" lengthAdjust="spacingAndGlyphs">Depth/m</text>
<text class="cap" x="213" y="1394" font-family="'Liberation Serif', 'Times New Roman', serif" font-size="38.3" fill="#000" textLength="504.5" lengthAdjust="spacingAndGlyphs">(c) Cantilever deformation mode</text>
</g>
<clipPath id="clip-d"><rect x="993.1" y="777" width="751.6" height="551.9"/></clipPath>
<g clip-path="url(#clip-d)" fill="none" stroke-opacity="0.88" stroke-width="1.65" stroke-linecap="round" stroke-linejoin="round">
<path d="M1003.9 777.2C1003.9 777.7 1004.2 779.1 1004.2 780C1004.2 780.9 1004.2 781.9 1004.1 782.8C1004 783.7 1003.8 784.6 1003.6 785.5C1003.4 786.4 1003.1 787.3 1002.8 788.2C1002.5 789 1002.2 789.8 1001.8 790.6C1001.4 791.4 1001 792.2 1000.5 793C1000 793.7 999.1 794.8 998.8 795.2" stroke="#f5dd36"/>
<path d="M1011.8 777.2C1011.7 778 1011.6 780.9 1011.5 782.1C1011.4 783.4 1011.3 783.8 1011.1 784.6C1011 785.4 1011 785.9 1010.6 787.1C1010.2 788.2 1009.4 790.6 1009 791.7C1008.5 792.9 1008.5 792.8 1007.9 793.8C1007.4 794.8 1006.5 796.4 1005.6 797.6C1004.7 798.9 1003.6 800.1 1002.5 801.3C1001.4 802.5 999.4 804.3 998.8 804.9" stroke="#f8cc3b"/>
<path d="M1020.1 777.2C1020 778.4 1019.9 782.3 1019.8 784.2C1019.6 786.1 1019.4 787.2 1019.1 788.6C1018.8 790 1018.3 791.7 1018 792.8C1017.6 793.8 1017.6 793.8 1017.2 794.8C1016.7 795.7 1015.9 797.3 1015.2 798.5C1014.4 799.8 1013.3 801.2 1012.6 802C1011.9 802.9 1011.9 802.9 1011.1 803.7C1010.4 804.4 1009 805.7 1007.9 806.7C1006.8 807.6 1005.9 808.2 1004.4 809.2C1002.9 810.1 999.7 811.8 998.8 812.3" stroke="#f9be42"/>
<path d="M1030.2 777.2C1030.2 778.4 1030.2 782.5 1030.1 784.5C1030 786.4 1029.7 788 1029.5 789.2C1029.3 790.3 1029.3 790.3 1029 791.5C1028.6 792.6 1027.8 794.8 1027.3 795.9C1026.9 797 1026.9 797 1026.3 798.1C1025.6 799.1 1024.3 801 1023.6 802C1022.8 802.9 1022.8 802.9 1022 803.8C1021.1 804.6 1019.9 805.8 1018.3 807C1016.7 808.3 1014.3 810.1 1012.3 811.4C1010.3 812.8 1008.6 813.8 1006.3 814.9C1004.1 816.1 1000.1 817.7 998.8 818.3" stroke="#f0b942"/>
<path d="M1041.3 777.2C1041.4 778 1041.9 780.3 1042.1 781.9C1042.3 783.4 1042.5 785.3 1042.6 786.5C1042.6 787.7 1042.6 787.7 1042.5 788.9C1042.5 790 1042.3 792 1042.1 793.4C1041.8 794.9 1041.3 796.6 1041 797.6C1040.7 798.7 1040.7 798.6 1040.3 799.6C1039.8 800.5 1038.8 802.3 1038.2 803.2C1037.6 804.1 1037.6 804.1 1036.7 805C1035.9 805.9 1034.4 807.4 1033.1 808.4C1031.8 809.5 1030.5 810.4 1029.1 811.3C1027.8 812.2 1026.3 813.1 1024.9 813.9C1023.6 814.7 1022.7 815.2 1021 816C1019.3 816.8 1016.6 818 1014.9 818.8C1013.2 819.5 1013.5 819.4 1010.8 820.4C1008.1 821.3 1000.8 823.6 998.8 824.3" stroke="#d6bc3c"/>
<path d="M998.8 828.9L1014.5 826.1" stroke="#b6c241"/>
<path d="M1052.3 810.4C1052.8 809.8 1054.7 807.8 1055.4 806.8C1056.2 805.9 1056.3 805.5 1056.7 804.8C1057 804.2 1057.3 803.8 1057.6 802.7C1058 801.6 1058.6 799.7 1058.8 798.1C1059.1 796.6 1059.2 795 1059.3 793.4C1059.3 791.9 1059.2 790.3 1059 788.8C1058.9 787.3 1058.7 786.1 1058.4 784.2C1058 782.2 1057.2 778.4 1057 777.2" stroke="#b6c241"/>
<path d="M999.3 834L1021.9 831.2" stroke="#95c753"/>
<path d="M1063 825.2C1064.6 824.7 1070.2 823.1 1072.4 822.4C1074.6 821.6 1075.2 821.3 1076.5 820.7C1077.8 820.1 1079 819.5 1080.2 818.8C1081.4 818 1082.7 816.9 1083.5 816.2C1084.3 815.5 1084.5 815.2 1085 814.7C1085.4 814.1 1085.8 813.6 1086.2 813C1086.6 812.4 1086.9 811.8 1087.2 811.2C1087.5 810.6 1087.8 809.9 1088 809.3C1088.2 808.6 1088.4 808.2 1088.5 807.2C1088.6 806.1 1088.7 804.2 1088.6 802.7C1088.5 801.2 1088.1 799.3 1087.9 798.1C1087.7 797 1087.7 797 1087.3 795.9C1086.9 794.9 1087.2 795.2 1085.7 792C1084.2 788.9 1079.5 779.7 1078.2 777.2" stroke="#95c753"/>
<path d="M1121.5 777.2C1121.7 777.5 1122.2 778.5 1122.6 779.1C1123 779.7 1123.5 780.3 1123.9 780.8C1124.4 781.3 1125 781.7 1125.5 782.1C1126.1 782.5 1126.1 782.5 1127.3 783.2C1128.5 783.9 1131.7 785.6 1132.9 786.3C1134.2 786.9 1133.5 786.6 1135 787.1C1136.4 787.5 1140.7 788.7 1141.8 789" stroke="#70c871"/>
<path d="M1183.5 784.2C1183.9 784.1 1185 783.7 1185.7 783.4C1186.4 783.1 1187 782.7 1187.6 782.3C1188.3 781.9 1188.9 781.4 1189.5 781C1190.1 780.5 1190.8 780.2 1191.3 779.5C1191.9 778.9 1192.6 777.7 1192.8 777.3" stroke="#70c871"/>
<path d="M999.3 902.1C1000 902.8 1002.3 904.8 1003.7 906.2C1005.2 907.7 1006.6 909.3 1007.9 910.9C1009.2 912.6 1010.7 914.6 1011.7 916C1012.7 917.5 1013 918.1 1013.9 919.6C1014.7 921.2 1015.9 923.7 1016.7 925.3C1017.4 926.9 1017.7 928 1018.1 929.3C1018.6 930.7 1019 932.4 1019.3 933.5C1019.5 934.5 1019.5 934.5 1019.7 935.6C1019.8 936.7 1020 938.6 1020 940.1C1020 941.6 1020 943.1 1019.8 944.6C1019.6 946.2 1019.3 947.7 1018.9 949.2C1018.5 950.7 1018 952.2 1017.4 953.7C1016.7 955.1 1016 956.6 1015.2 958C1014.4 959.3 1013.2 960.9 1012.5 961.9C1011.8 962.8 1011.8 962.8 1011 963.7C1010.2 964.5 1008.8 966 1007.7 967C1006.5 968 1005.3 969 1004 969.9C1002.7 970.8 1000.5 971.9 999.8 972.3" stroke="#4b3cae"/>
<path d="M999.3 883.3C1000.7 884 1005.4 886.5 1007.7 887.8C1010 889.1 1011.3 890.1 1013.1 891.2C1014.8 892.4 1017.3 894.2 1018.2 894.8" stroke="#5a6af0"/>
<path d="M1038.5 943.2C1038.3 944 1037.7 946.6 1037.3 947.7C1037 948.8 1037.1 948.5 1036.4 949.9C1035.8 951.3 1034.1 954.4 1033.2 956C1032.2 957.6 1031.2 958.8 1030.6 959.7C1029.9 960.5 1030.2 960.3 1029.2 961.3C1028.2 962.3 1025.9 964.5 1024.5 965.6C1023.2 966.8 1022.6 967.2 1021 968.1C1019.5 969 1017.3 970.2 1015.3 971.1C1013.4 972.1 1012.5 972.4 1009.3 973.6C1006.1 974.8 998.3 977.4 996.1 978.2" stroke="#5a6af0"/>
<path d="M999.3 867.6C1000.6 868 1004.6 869.3 1006.8 870.1C1009.1 870.9 1010.7 871.5 1012.6 872.3C1014.6 873.1 1015.8 873.7 1018.5 875C1021.1 876.3 1026.7 879.3 1028.4 880.1" stroke="#35a0e6"/>
<path d="M1060.6 922.9C1060.7 923.6 1060.9 925.8 1060.9 927.3C1060.9 928.8 1060.9 930 1060.6 931.8C1060.3 933.6 1059.7 936.1 1059.1 938.2C1058.4 940.3 1057.5 942.7 1056.8 944.3C1056 946 1055.7 946.6 1054.8 948.2C1053.9 949.7 1052.5 951.9 1051.1 953.7C1049.8 955.5 1048 957.5 1046.8 958.8C1045.5 960.2 1044.9 960.7 1043.6 962C1042.2 963.2 1039.9 965 1038.5 966.1C1037 967.2 1036.4 967.5 1034.9 968.4C1033.4 969.4 1031.3 970.6 1029.4 971.5C1027.5 972.4 1025.2 973.4 1023.5 974C1021.8 974.6 1021.1 974.8 1019.4 975.3C1017.6 975.8 1015.1 976.4 1012.9 976.8C1010.7 977.3 1008.9 977.6 1006.2 978C1003.6 978.4 998.5 979 997 979.2" stroke="#35a0e6"/>
<path d="M999.3 855.6C1001.1 855.9 1007.1 856.8 1010.4 857.5C1013.6 858.2 1015.6 858.7 1018.6 859.6C1021.7 860.5 1025.3 861.7 1028.8 863C1032.2 864.3 1037.6 866.5 1039.4 867.2" stroke="#1ab6cc"/>
<path d="M1079.6 904C1080 905 1081.4 908.5 1081.9 910.3C1082.5 912 1082.7 913.2 1083 914.7C1083.3 916.1 1083.5 917.5 1083.6 919C1083.7 920.4 1083.8 921.8 1083.8 923.3C1083.8 924.7 1083.7 926.1 1083.6 927.6C1083.5 929 1083.3 930.4 1083.1 931.8C1082.9 933.3 1082.7 934.3 1082.2 936.1C1081.7 937.8 1080.8 940.7 1080.1 942.4C1079.5 944.1 1079 945.1 1078.3 946.4C1077.7 947.7 1076.9 949 1076.2 950.3C1075.4 951.5 1074.6 952.7 1073.8 953.9C1072.9 955 1072.1 956.2 1071.1 957.3C1070.2 958.3 1069.3 959.4 1068.3 960.4C1067.3 961.4 1066.3 962.4 1065.2 963.4C1064.2 964.3 1063.1 965.3 1062 966.2C1060.9 967.1 1059.7 968 1058.5 968.9C1057.3 969.7 1056.1 970.5 1054.9 971.3C1053.6 972.1 1052.4 972.9 1051.1 973.6C1049.8 974.3 1048.5 975 1047.1 975.6C1045.8 976.3 1044.5 976.8 1043.1 977.4C1041.8 977.9 1040.5 978.4 1039.1 978.8C1037.8 979.2 1036.4 979.6 1035 979.9C1033.7 980.3 1032.3 980.6 1030.8 980.8C1029.4 981.1 1027.9 981.3 1026.4 981.4C1024.9 981.6 1023.4 981.7 1021.9 981.7C1020.3 981.8 1018.8 981.8 1017.2 981.8C1015.6 981.8 1014.4 981.8 1012.5 981.7C1010.5 981.5 1007.4 981.3 1005.4 981.1C1003.5 980.9 1002.3 980.8 1000.8 980.5C999.2 980.3 996.9 979.8 996.1 979.6" stroke="#1ab6cc"/>
<path d="M999.3 843.6C1002.1 843.6 1011.5 843.7 1016 843.9C1020.5 844 1022.5 844.2 1026.3 844.5C1030.1 844.9 1033.8 845.4 1038.6 846.2C1043.4 846.9 1052.4 848.7 1055.1 849.2" stroke="#46c590"/>
<path d="M1102.2 876.9C1103 878.1 1105.7 882.4 1106.8 884.3C1107.9 886.2 1108.1 886.5 1108.8 888C1109.6 889.6 1110.7 891.9 1111.4 893.8C1112.2 895.8 1112.9 897.8 1113.4 899.9C1114 901.9 1114.5 904 1114.9 906.1C1115.3 908.2 1115.6 910.7 1115.8 912.4C1115.9 914.2 1116 914.9 1116 916.7C1116 918.4 1115.9 920.9 1115.7 923C1115.5 925.1 1115.2 927.1 1114.8 929.1C1114.4 931.1 1113.9 933.1 1113.3 935C1112.7 937 1112.1 938.9 1111.3 940.7C1110.5 942.6 1109.7 944.4 1108.8 946.2C1107.8 948 1106.8 949.8 1105.7 951.6C1104.6 953.3 1103.5 955 1102.2 956.7C1101 958.4 1099.6 960 1098.2 961.6C1096.9 963.2 1095.4 964.8 1093.8 966.3C1092.3 967.8 1090.7 969.3 1089.1 970.7C1087.5 972 1085.8 973.4 1084.1 974.6C1082.3 975.8 1080.6 977 1078.8 978.1C1076.9 979.2 1075.1 980.2 1073.1 981.2C1071.2 982.1 1069.2 983 1067.2 983.8C1065.2 984.6 1063.1 985.4 1061 986C1059 986.7 1056.9 987.2 1054.8 987.7C1052.8 988.2 1050.7 988.5 1048.7 988.8C1046.6 989.1 1044.2 989.3 1042.4 989.5C1040.7 989.6 1040 989.6 1038.3 989.6C1036.5 989.5 1034.1 989.4 1032 989.3C1029.9 989.1 1027.8 988.8 1025.8 988.5C1023.7 988.2 1021.7 987.8 1019.7 987.4C1017.7 986.9 1017.5 987 1013.7 985.8C1009.9 984.7 999.8 981.5 997 980.6" stroke="#46c590"/>
<path d="M999.3 839C1002.4 838.7 1013.2 837.7 1018 837.4C1022.9 837.1 1025 837.2 1028.5 837.2C1031.9 837.2 1035.6 837.4 1038.8 837.6C1042 837.7 1044.7 837.9 1047.6 838.1C1050.5 838.3 1053.5 838.6 1056.3 838.9C1059.1 839.2 1063 839.8 1064.3 840" stroke="#70c871"/>
<path d="M1103.1 853.3C1104.1 854.3 1107.5 857.4 1109.2 859.2C1110.9 861 1111.8 862.1 1113.3 864.1C1114.8 866.1 1116.6 868.7 1118.1 871.1C1119.6 873.6 1121.1 876.1 1122.4 878.7C1123.8 881.4 1125.2 884.4 1126.2 886.8C1127.2 889.2 1127.9 891.4 1128.5 893.1C1129 894.9 1129.3 896 1129.7 897.4C1130 898.8 1130.3 899.9 1130.6 901.7C1130.8 903.4 1131.2 905.9 1131.3 908.1C1131.5 910.2 1131.5 912.4 1131.4 914.5C1131.3 916.7 1131.1 918.8 1130.8 920.9C1130.5 923 1130 925.4 1129.6 927.2C1129.2 928.9 1128.9 929.9 1128.5 931.3C1128.1 932.6 1127.8 933.6 1127.2 935.3C1126.5 936.9 1125.8 938.9 1124.7 941.2C1123.7 943.5 1122 946.7 1120.7 948.9C1119.5 951.1 1118.7 952.3 1117.2 954.4C1115.8 956.5 1113.8 959.1 1112 961.4C1110.1 963.6 1108.2 965.8 1106.2 967.8C1104.1 969.9 1101.7 972 1099.8 973.7C1097.9 975.3 1096.8 976.2 1094.7 977.7C1092.6 979.2 1089.9 981 1087.4 982.5C1085 984 1082.4 985.4 1079.8 986.6C1077.2 987.8 1074.6 988.9 1072 989.9C1069.3 990.8 1066.3 991.7 1063.9 992.4C1061.6 993 1059.8 993.3 1057.8 993.7C1055.8 994 1054 994.3 1051.6 994.5C1049.2 994.7 1046.1 994.8 1043.3 994.8C1040.6 994.8 1037.8 994.6 1035.1 994.3C1032.3 994 1029.6 993.5 1026.9 993C1024.3 992.4 1022 991.8 1019 990.9C1016 990 1011.7 988.5 1009 987.5C1006.4 986.4 1004.8 985.6 1003.1 984.8C1001.4 983.9 1000 983 999 982.4C998 981.8 997.3 981.2 997 981" stroke="#70c871"/>
<path d="M997 981.3C998.5 982.2 1003.7 985.4 1006.2 986.8C1008.7 988.2 1009.6 988.7 1011.8 989.8C1014.1 990.9 1017.3 992.3 1019.6 993.3C1021.9 994.2 1023.3 994.7 1025.7 995.4C1028 996.2 1031.5 997.1 1033.9 997.6C1036.4 998.2 1037.8 998.5 1040.2 998.8C1042.7 999.1 1045.7 999.5 1048.5 999.6C1051.2 999.8 1054 999.8 1056.7 999.7C1059.5 999.7 1062.2 999.5 1065 999.2C1067.7 999 1070.5 998.6 1073.2 998.1C1075.9 997.5 1078.9 996.8 1081.2 996.2C1083.5 995.5 1084.8 995.1 1087 994.3C1089.2 993.4 1092.1 992.3 1094.6 991.1C1097 990 1099.4 988.7 1101.8 987.3C1104.1 986 1106.4 984.5 1108.7 982.9C1110.9 981.3 1113.1 979.7 1115.2 977.9C1117.4 976.1 1119.6 974 1121.4 972.3C1123.1 970.6 1124.2 969.3 1125.6 967.7C1127 966.1 1128.3 964.5 1129.5 962.8C1130.8 961.1 1132 959.4 1133.2 957.5C1134.3 955.7 1135.3 954.2 1136.5 951.9C1137.7 949.7 1139.3 946.4 1140.4 944.1C1141.4 941.7 1142 940.4 1142.8 938C1143.7 935.6 1144.8 932.2 1145.6 929.8C1146.3 927.4 1146.7 926.1 1147.3 923.7C1147.9 921.3 1148.6 918.2 1149.2 915.4C1149.8 912.7 1150.4 909.5 1150.8 907.1C1151.2 904.6 1151.5 902.8 1151.7 900.7C1151.9 898.6 1152.1 896.9 1152.2 894.4C1152.4 892 1152.5 890.6 1152.4 886C1152.3 881.5 1151.7 871.3 1151.5 867.2C1151.4 863 1151.4 862.6 1151.5 860.9C1151.5 859.2 1151.6 858.2 1151.8 856.9C1152 855.5 1152.2 854.2 1152.5 852.9C1152.8 851.6 1153.3 850.1 1153.6 849.2C1153.9 848.3 1153.9 848.3 1154.4 847.4C1154.8 846.6 1155.6 845.1 1156.3 844.1C1157.1 843 1157.9 842 1158.7 841C1159.6 840 1160.6 839.1 1161.6 838.2C1162.6 837.4 1163.7 836.5 1164.8 835.8C1165.9 835 1167.2 834.3 1168.4 833.6C1169.7 832.9 1170.6 832.4 1172.3 831.8C1174 831.1 1176.3 830.3 1178.4 829.6C1180.5 829 1183.7 828.2 1184.7 827.9" stroke="#95c753"/>
<path d="M1225.2 816.3C1227.1 815.7 1232.8 814 1236.7 812.7C1240.5 811.4 1244.7 809.9 1248.2 808.5C1251.7 807.1 1255.1 805.5 1257.7 804.3C1260.2 803.1 1261.7 802.2 1263.2 801.4C1264.8 800.6 1265.4 800.2 1266.9 799.3C1268.3 798.3 1270.6 796.8 1272 795.8C1273.5 794.8 1274.3 794.2 1275.3 793.3C1276.4 792.4 1277.4 791.5 1278.4 790.6C1279.4 789.7 1280.4 788.7 1281.3 787.7C1282.1 786.7 1283.2 785.4 1283.8 784.6C1284.4 783.8 1284.5 783.5 1284.8 782.9C1285.1 782.3 1285.3 782 1285.8 781.1C1286.2 780.2 1287 777.9 1287.3 777.3" stroke="#95c753"/>
<path d="M997 981.7C998.3 982.8 1002.7 986.5 1004.8 988.2C1007 989.9 1008.2 990.6 1010 991.8C1011.8 992.9 1013.8 994.1 1015.7 995.1C1017.7 996.1 1019.8 997.1 1021.8 997.9C1023.8 998.8 1025.5 999.4 1027.9 1000.2C1030.3 1001 1033.8 1002 1036.3 1002.6C1038.7 1003.2 1040.1 1003.4 1042.5 1003.8C1044.9 1004.2 1048 1004.6 1050.8 1004.9C1053.5 1005.1 1056.3 1005.3 1059 1005.3C1061.8 1005.3 1064.5 1005.2 1067.2 1005.1C1070 1004.9 1072.7 1004.6 1075.4 1004.2C1078.2 1003.9 1080.9 1003.4 1083.7 1002.8C1086.5 1002.3 1089.2 1001.6 1092 1000.8C1094.7 1000.1 1097.8 999 1100.2 998.2C1102.6 997.3 1103.9 996.8 1106.2 995.7C1108.5 994.7 1111.8 993.1 1114 992C1116.2 990.8 1117.8 989.9 1119.6 988.8C1121.5 987.6 1123.3 986.5 1125 985.2C1126.8 983.9 1128.5 982.6 1130.2 981.2C1131.9 979.8 1133.3 978.6 1135.1 976.9C1136.9 975.2 1139 973.1 1141.1 970.9C1143.3 968.6 1146 965.6 1148 963.3C1150 961 1151.7 958.9 1153.2 956.9C1154.7 955 1155.8 953.6 1157 951.8C1158.2 950.1 1159.6 948 1160.5 946.4C1161.5 944.9 1161.7 944.6 1162.7 942.7C1163.6 940.9 1165.4 937.4 1166.4 935.2C1167.3 933 1167.6 932.4 1168.6 929.6C1169.6 926.7 1171.3 921.4 1172.4 918.2C1173.5 915 1174.1 913.3 1175.3 910.4C1176.5 907.4 1178 903.8 1179.4 900.5C1180.9 897.3 1182.7 893.5 1183.9 891C1185.2 888.5 1185.9 887.3 1186.9 885.5C1188 883.7 1189.1 882 1190.2 880.3C1191.4 878.5 1192.7 876.8 1194 875.2C1195.3 873.6 1196.7 872 1198.2 870.5C1199.7 869 1201.5 867.3 1202.8 866.2C1204.2 865 1205 864.4 1206.2 863.5C1207.3 862.7 1208.2 862.1 1209.7 861.1C1211.1 860.2 1212.9 859 1215.1 857.8C1217.3 856.7 1219.8 855.4 1222.7 854.1C1225.6 852.8 1229.3 851.3 1232.6 850.1C1236 848.8 1239.4 847.6 1242.9 846.5C1246.3 845.4 1249.4 844.5 1253.3 843.4C1257.2 842.2 1264.1 840.5 1266.2 839.9" stroke="#b6c241"/>
<path d="M1305.4 826.5C1307.4 825.7 1313.1 823.6 1317.4 821.8C1321.6 819.9 1327.3 817.2 1331.2 815.3C1335 813.4 1338.1 811.6 1340.6 810.2C1343.1 808.8 1344.6 807.8 1346.1 806.8C1347.6 805.8 1348.2 805.3 1349.6 804.2C1351.1 803.1 1353.3 801.3 1354.7 800.1C1356.1 798.9 1357 798.1 1358 797.1C1359.1 796.1 1359.9 795.4 1361.2 794C1362.4 792.7 1364.4 790.5 1365.6 789.1C1366.8 787.7 1367.4 786.9 1368.2 785.7C1369 784.6 1369.8 783.2 1370.3 782.3C1370.8 781.4 1370.8 781.3 1371.1 780.4C1371.4 779.4 1372 777.2 1372.2 776.6" stroke="#b6c241"/>
<path d="M996.4 982.7C996.8 983.3 997.6 984.8 998.8 986.2C999.9 987.6 1001.7 989.5 1003.3 990.9C1004.8 992.4 1006.2 993.5 1008.2 995C1010.2 996.6 1013 998.6 1015.5 1000.2C1017.9 1001.8 1020.6 1003.4 1022.8 1004.5C1024.9 1005.7 1026.4 1006.3 1028.3 1007.1C1030.1 1007.8 1032.1 1008.5 1034 1009.1C1036 1009.7 1038 1010.2 1040 1010.7C1042 1011.1 1043.7 1011.5 1046.1 1011.8C1048.6 1012.2 1051.7 1012.6 1054.5 1012.8C1057.3 1013 1060.1 1013.1 1062.9 1013.1C1065.7 1013.1 1068.4 1012.9 1071.2 1012.7C1073.9 1012.4 1076.7 1012.1 1079.4 1011.6C1082.2 1011.2 1084.9 1010.6 1087.7 1010C1090.4 1009.3 1093.5 1008.5 1095.8 1007.8C1098.2 1007.1 1099.8 1006.5 1101.8 1005.8C1103.8 1005 1105.4 1004.4 1107.7 1003.5C1109.9 1002.5 1110.5 1002.3 1115.4 1000.2C1120.2 998 1131.7 992.6 1136.5 990.4C1141.3 988.1 1142 987.8 1144.2 986.6C1146.4 985.5 1148.2 984.4 1149.7 983.5C1151.3 982.6 1152.1 982 1153.3 981.3C1154.5 980.5 1155.4 979.9 1156.8 978.8C1158.1 977.8 1159.8 976.5 1161.7 974.8C1163.5 973.2 1165.8 971 1167.8 969C1169.8 967 1171.5 965.2 1173.7 962.8C1175.8 960.3 1178.1 957.6 1180.6 954.5C1183.1 951.5 1186.6 946.9 1188.6 944.4C1190.5 941.8 1191.1 941 1192.2 939.3C1193.4 937.6 1193.4 937.9 1195.5 934.2C1197.6 930.5 1202.8 920.7 1205 916.9C1207.1 913.2 1207.2 913.5 1208.4 911.8C1209.6 910.1 1211 908.4 1212.3 906.9C1213.7 905.3 1214.8 903.9 1216.5 902.3C1218.2 900.6 1220.8 898.3 1222.6 896.7C1224.4 895.2 1225.4 894.3 1227.3 893C1229.3 891.6 1231.5 890 1234.1 888.5C1236.7 886.9 1240 885.1 1243.1 883.5C1246.2 882 1249 880.8 1252.5 879.4C1256 878 1259.2 876.8 1264 875.1C1268.8 873.5 1275.9 871.2 1281.4 869.6C1286.9 867.9 1291.6 866.5 1296.9 865.1C1302.2 863.6 1307.2 862.3 1312.9 860.9C1318.6 859.5 1324.4 858.2 1331.3 856.7C1338.1 855.2 1350.3 852.8 1354.1 852" stroke="#d6bc3c"/>
<path d="M1394.9 837.2C1397.5 836.2 1406.5 832.6 1410.4 831C1414.2 829.4 1415.7 828.6 1417.9 827.6C1420 826.5 1421.3 825.9 1423.4 824.8C1425.5 823.6 1428.5 822 1430.5 820.8C1432.6 819.6 1434 818.7 1435.8 817.6C1437.5 816.4 1439.2 815.3 1440.8 814.1C1442.5 812.9 1444.2 811.7 1445.8 810.4C1447.4 809.2 1449 807.9 1450.5 806.5C1452 805.2 1453.6 803.8 1455 802.4C1456.5 801 1457.9 799.5 1459.3 798C1460.6 796.5 1462 795 1463.2 793.4C1464.5 791.8 1465.9 789.8 1466.9 788.4C1467.8 787 1468.4 786 1469 784.8C1469.7 783.6 1470.4 782.1 1470.8 781.1C1471.2 780.1 1471.4 779.6 1471.6 778.8C1471.8 778 1472 777 1472.1 776.6" stroke="#d6bc3c"/>
<path d="M995.8 983.3C996.2 984 997 985.9 998.1 987.4C999.1 989 1000.7 991.2 1002.1 992.8C1003.5 994.5 1004.7 995.7 1006.6 997.4C1008.4 999 1011 1001.2 1013.3 1002.9C1015.6 1004.7 1018.3 1006.5 1020.5 1007.8C1022.6 1009.2 1024.3 1010.1 1026.2 1011.1C1028.2 1012.2 1029.9 1013 1032.3 1013.9C1034.6 1014.8 1037.7 1015.9 1040.4 1016.8C1043.2 1017.7 1046 1018.4 1048.8 1019.1C1051.6 1019.7 1054.4 1020.3 1057.2 1020.7C1060 1021.1 1062.7 1021.5 1065.5 1021.7C1068.2 1021.9 1071 1022.1 1073.7 1022.1C1076.5 1022.2 1079.2 1022.2 1082 1022C1084.7 1021.9 1087.5 1021.7 1090.2 1021.4C1093 1021.1 1095.8 1020.7 1098.5 1020.2C1101.2 1019.7 1104 1019.1 1106.7 1018.4C1109.4 1017.8 1112.5 1016.9 1114.8 1016.2C1117.2 1015.5 1118.5 1015 1120.8 1014.2C1123.1 1013.3 1126.1 1012.2 1128.6 1011.1C1131.2 1010.1 1133.5 1009.1 1136.3 1007.7C1139.2 1006.4 1142.4 1004.8 1145.9 1003C1149.4 1001.3 1152.9 999.3 1157.3 997C1161.6 994.7 1168 991.3 1171.9 989.2C1175.8 987 1178.3 985.4 1180.6 984C1182.9 982.6 1183.7 982 1185.7 980.5C1187.6 979.1 1186.1 980.7 1192.2 975.4C1198.4 970.1 1215.5 954.8 1222.4 948.8C1229.2 942.9 1228.5 943.7 1233.3 939.8C1238 935.9 1246.8 928.8 1250.9 925.7C1254.9 922.5 1255.6 922.1 1257.7 920.8C1259.7 919.4 1261.2 918.5 1263 917.4C1264.8 916.3 1266.4 915.5 1268.6 914.4C1270.8 913.3 1273.3 912.1 1276.2 910.8C1279.1 909.6 1282.7 908.2 1286 907C1289.2 905.8 1292.1 904.9 1295.7 903.7C1299.3 902.6 1303.6 901.4 1307.6 900.3C1311.7 899.2 1315.9 898.1 1320 897.1C1324.1 896.1 1326.2 895.6 1332.2 894.4C1338.2 893.2 1341.1 893 1355.9 889.9C1370.8 886.9 1406.5 879.5 1421.3 876.2C1436.2 873 1437.4 872.5 1445 870.6C1452.5 868.6 1462.9 865.5 1466.5 864.5" stroke="#f0b942"/>
<path d="M1507.3 852C1509.2 851.2 1515 848.8 1518.4 847.3C1521.8 845.8 1524.6 844.5 1527.7 843.1C1530.8 841.6 1534.2 839.9 1537 838.5C1539.8 837 1542 835.8 1544.4 834.5C1546.9 833.1 1549.3 831.7 1551.7 830.2C1554.1 828.7 1556.5 827.2 1558.9 825.6C1561.2 824.1 1563.5 822.5 1565.8 820.8C1568.1 819.1 1570.3 817.4 1572.5 815.6C1574.7 813.9 1577 811.8 1578.8 810.1C1580.6 808.5 1581.8 807.3 1583.2 805.7C1584.7 804.2 1586 802.7 1587.4 801.1C1588.7 799.5 1590 797.9 1591.2 796.2C1592.4 794.6 1593.6 792.9 1594.6 791.1C1595.7 789.4 1596.8 787.4 1597.5 785.9C1598.3 784.4 1598.6 783.8 1599.1 782.3C1599.5 780.7 1600.2 777.5 1600.4 776.6" stroke="#f0b942"/>
<path d="M995.4 983.8C995.8 984.8 996.9 987.9 997.8 989.9C998.7 991.8 999.8 993.6 1001 995.4C1002.1 997.1 1003.2 998.4 1004.8 1000.2C1006.5 1002 1009.4 1004.8 1011 1006.3C1012.5 1007.7 1012.8 1007.9 1014.2 1009C1015.5 1010.1 1017.2 1011.5 1019.2 1012.9C1021.2 1014.4 1023.9 1016.3 1026.3 1017.8C1028.7 1019.3 1031.2 1020.7 1033.7 1022C1036.2 1023.3 1038.8 1024.5 1041.4 1025.6C1044 1026.7 1046.7 1027.7 1049.4 1028.6C1052.1 1029.5 1054.5 1030.2 1057.6 1031C1060.7 1031.7 1064.9 1032.6 1068 1033.2C1071.1 1033.8 1073.5 1034.1 1076.3 1034.4C1079 1034.7 1081.4 1034.9 1084.5 1035C1087.6 1035.2 1091.4 1035.2 1094.9 1035.2C1098.3 1035.1 1102.1 1034.9 1105.2 1034.6C1108.3 1034.4 1111 1034 1113.4 1033.6C1115.8 1033.3 1117.6 1033 1119.6 1032.6C1121.7 1032.2 1123.7 1031.7 1125.8 1031.2C1127.8 1030.7 1129.5 1030.3 1131.8 1029.6C1134.2 1029 1137.2 1028 1139.8 1027.2C1142.4 1026.3 1145 1025.4 1147.5 1024.4C1150.1 1023.4 1150.7 1023.2 1155.1 1021.4C1159.4 1019.6 1169 1015.5 1173.6 1013.4C1178.2 1011.3 1179.7 1010.5 1182.7 1008.9C1185.7 1007.3 1183.7 1008.8 1191.7 1003.7C1199.8 998.7 1222.3 983.9 1230.9 978.4C1239.6 973 1239.5 973.2 1243.4 971C1247.3 968.8 1249.9 967.3 1254.2 965.2C1258.5 963 1264.3 960.1 1269 957.9C1273.7 955.7 1277.8 953.9 1282.3 952.1C1286.8 950.3 1290.9 948.7 1295.8 947C1300.7 945.3 1304.1 944.1 1311.7 941.8C1319.4 939.5 1334.5 935.2 1341.7 933.2C1348.9 931.2 1347.9 931.4 1355 929.8C1362 928.2 1374 925.7 1383.9 923.7C1393.7 921.8 1406.1 919.5 1414.1 918.1C1422.1 916.6 1425.9 916 1432 915.1C1438 914.1 1427.7 915.4 1450.3 912.4C1472.9 909.3 1548 899.5 1567.5 896.9" stroke="#f9be42"/>
<path d="M1608.3 887.2C1612.3 886.1 1624.8 882.6 1632 880.4C1639.3 878.3 1646 876.2 1652 874.3C1658 872.4 1663.1 870.7 1668.1 868.9C1673.1 867.1 1677.1 865.5 1682 863.5C1686.9 861.5 1692.7 859 1697.5 856.8C1702.3 854.7 1706.4 852.7 1710.8 850.4C1715.2 848.2 1718.3 846.5 1724 843.4C1729.7 840.3 1741.5 833.6 1745 831.6" stroke="#f9be42"/>
<path d="M995.2 984.4C995.5 985.7 996.5 990 997.3 992.2C998 994.4 998.9 996.3 999.6 997.8C1000.3 999.3 1000.9 1000.1 1001.6 1001.2C1002.3 1002.4 1002.4 1002.7 1003.8 1004.7C1005.3 1006.6 1007.9 1010.2 1010.1 1012.8C1012.3 1015.4 1014.5 1017.9 1016.8 1020.3C1019.2 1022.7 1021.7 1025 1024.3 1027.3C1026.9 1029.5 1029.9 1031.8 1032.5 1033.6C1035 1035.4 1037.1 1036.7 1039.5 1038.1C1041.9 1039.5 1044.3 1040.8 1046.8 1042C1049.2 1043.3 1051.8 1044.4 1054.4 1045.4C1057 1046.5 1059.6 1047.4 1062.3 1048.2C1065 1049 1067.8 1049.7 1070.5 1050.3C1073.3 1050.9 1075.8 1051.4 1078.9 1051.8C1082 1052.3 1085.9 1052.7 1089.3 1053C1092.8 1053.3 1095.9 1053.4 1099.7 1053.5C1103.4 1053.5 1108.6 1053.3 1112 1053.2C1115.4 1053.1 1117.8 1052.8 1120.2 1052.6C1122.6 1052.4 1124.3 1052.2 1126.4 1051.9C1128.4 1051.7 1130.1 1051.5 1132.5 1051.1C1134.9 1050.7 1137.9 1050.1 1140.6 1049.6C1143.3 1049 1146 1048.4 1148.7 1047.8C1151.4 1047.1 1153.8 1046.5 1156.8 1045.7C1159.9 1044.9 1163.9 1043.7 1166.9 1042.8C1169.9 1041.9 1171.9 1041.2 1174.9 1040.2C1177.8 1039.2 1181.5 1037.9 1184.7 1036.6C1188 1035.4 1182.9 1037.8 1194.4 1032.7C1205.9 1027.6 1241.6 1011.4 1253.7 1006C1265.8 1000.6 1262.9 1002 1267 1000.3C1271.2 998.6 1274 997.4 1278.5 995.7C1282.9 994 1289 991.7 1293.8 990C1298.7 988.3 1303.3 986.7 1307.6 985.4C1312 984 1315.9 982.8 1320 981.7C1324.1 980.6 1321.4 981 1332.2 978.7C1343 976.4 1373.3 970.2 1384.7 968C1396.1 965.8 1395.2 966.2 1400.6 965.4C1405.9 964.7 1410.9 964.1 1416.7 963.5C1422.5 962.9 1428 962.4 1435.2 961.9C1442.5 961.4 1440 961.4 1460.4 960.4C1480.7 959.5 1541.1 957.1 1557.3 956.4" stroke="#f8cc3b"/>
<path d="M1600.4 954.2C1606.3 953.8 1624.9 952.5 1635.5 951.7C1646.1 950.9 1654 950.2 1663.9 949.3C1673.8 948.4 1681.5 947.7 1695 946.3C1708.5 944.9 1736.7 941.9 1745 941" stroke="#f8cc3b"/>
<path d="M995 985C995.3 986.5 996 991.4 996.5 993.9C997 996.5 997.4 997.9 998.2 1000.3C999 1002.7 1000 1005.4 1001.4 1008.3C1002.7 1011.3 1004.5 1014.9 1006.3 1018C1008 1021.1 1010.3 1024.7 1011.9 1027.1C1013.4 1029.6 1014.3 1030.7 1015.6 1032.4C1016.8 1034.2 1017.6 1035.3 1019.3 1037.4C1021.1 1039.5 1023.7 1042.7 1026 1045.2C1028.4 1047.7 1031.1 1050.2 1033.4 1052.3C1035.7 1054.3 1037.2 1055.6 1039.6 1057.4C1042.1 1059.2 1045.5 1061.5 1048 1063.2C1050.6 1064.8 1053.1 1066.1 1055.2 1067.2C1057.3 1068.4 1059.2 1069.2 1060.8 1069.9C1062.3 1070.6 1062.6 1070.8 1064.6 1071.5C1066.5 1072.2 1069.4 1073.4 1072.4 1074.2C1075.4 1075.1 1079.1 1076 1082.4 1076.7C1085.8 1077.3 1089.2 1077.8 1092.6 1078.3C1096 1078.7 1099.8 1079 1102.8 1079.2C1105.9 1079.4 1108.3 1079.5 1111 1079.6C1113.7 1079.6 1116.5 1079.7 1119.2 1079.6C1121.9 1079.6 1124.7 1079.6 1127.4 1079.5C1130.2 1079.4 1132.9 1079.2 1135.7 1079C1138.4 1078.8 1141.2 1078.6 1144 1078.3C1146.7 1078 1148.5 1077.9 1152.3 1077.3C1156 1076.7 1162.9 1075.6 1166.6 1074.9C1170.3 1074.2 1171.6 1073.8 1174.6 1073.1C1177.6 1072.3 1178.8 1072.1 1184.6 1070.5C1190.4 1069 1202.8 1065.5 1209.1 1063.7C1215.5 1061.8 1211.4 1063.1 1223 1059.4C1234.5 1055.6 1267 1045 1278.6 1041.2C1290.3 1037.5 1288.2 1038.3 1292.6 1037.1C1297 1035.8 1300.9 1034.8 1305.1 1033.8C1309.3 1032.7 1314 1031.7 1317.8 1030.9C1321.6 1030.1 1322.5 1029.8 1328.2 1028.9C1333.9 1028 1342.8 1026.9 1351.9 1025.5C1361 1024.1 1374.9 1021.8 1382.7 1020.8C1390.5 1019.7 1393.6 1019.4 1398.6 1018.9C1403.6 1018.5 1407.6 1018.2 1412.7 1017.9C1417.7 1017.6 1422.4 1017.3 1429 1017.1C1435.6 1016.9 1444.1 1016.8 1452.1 1016.7C1460 1016.6 1468.9 1016.6 1476.8 1016.6C1484.7 1016.7 1492.2 1016.8 1499.4 1016.9C1506.5 1017.1 1510.1 1017.2 1519.6 1017.5C1529 1017.8 1550 1018.7 1556.1 1018.9" stroke="#f5dd36"/>
<path d="M1598.1 1020C1604.4 1020.3 1620.8 1020.9 1635.9 1021.6C1651.1 1022.3 1670.7 1023.4 1688.9 1024.2C1707.1 1025 1735.6 1026 1745 1026.3" stroke="#f5dd36"/>
<path d="M994.6 985.5C994.8 987.7 995.5 994.6 996.1 998.5C996.7 1002.3 997.1 1004.6 998.1 1008.6C999.1 1012.6 1000.6 1018 1002 1022.5C1003.4 1027.1 1005 1031.8 1006.5 1035.9C1008.1 1040.1 1009.6 1043.6 1011.4 1047.4C1013.1 1051.3 1015 1055.1 1017.1 1058.8C1019.1 1062.6 1021.5 1066.5 1023.6 1069.7C1025.7 1072.9 1027.5 1075.5 1029.6 1078.3C1031.7 1081.1 1034 1083.7 1036.3 1086.3C1038.6 1088.9 1041.6 1091.8 1043.6 1093.7C1045.6 1095.7 1046.9 1096.8 1048.2 1097.9C1049.5 1099 1050.4 1099.6 1051.5 1100.4C1052.6 1101.2 1053.7 1102 1054.8 1102.8C1056 1103.5 1056.5 1104 1058.4 1105C1060.2 1106 1063.9 1107.9 1065.8 1108.8C1067.7 1109.7 1068 1109.8 1069.6 1110.4C1071.3 1111.1 1072.9 1111.7 1075.6 1112.6C1078.3 1113.5 1082.3 1114.7 1085.7 1115.6C1089.1 1116.5 1092.9 1117.3 1096 1117.9C1099.1 1118.5 1101.6 1118.9 1104.3 1119.2C1107.1 1119.6 1109.9 1119.9 1112.6 1120.2C1115.4 1120.4 1117.8 1120.6 1120.9 1120.8C1124 1120.9 1127.4 1121.1 1131.2 1121.1C1135 1121.2 1139.8 1121.2 1143.5 1121.1C1147.3 1121 1150.4 1120.9 1153.8 1120.8C1157.2 1120.6 1160.7 1120.3 1164.1 1120.1C1167.5 1119.8 1169.3 1119.7 1174.4 1119C1179.6 1118.3 1187.5 1117.3 1195 1116.1C1202.6 1115 1202.2 1115.3 1219.7 1112C1237.3 1108.6 1282.5 1099.5 1300.2 1096C1317.8 1092.6 1318.4 1092.7 1325.6 1091.5C1332.9 1090.3 1337.4 1089.7 1343.8 1088.8C1350.2 1087.9 1357.7 1087 1363.9 1086.2C1370.1 1085.5 1375.7 1084.9 1381 1084.5C1386.3 1084 1390.9 1083.6 1395.8 1083.3C1400.7 1083.1 1405.3 1082.8 1410.5 1082.7C1415.6 1082.6 1421 1082.5 1426.8 1082.6C1432.5 1082.6 1438.8 1082.8 1445 1083C1451.2 1083.2 1456.8 1083.5 1463.8 1083.8C1470.7 1084.2 1479.4 1084.7 1486.5 1085.2C1493.6 1085.7 1500.1 1086.3 1506.5 1086.8C1512.9 1087.4 1517.3 1087.8 1524.8 1088.6C1532.4 1089.4 1547.4 1091.1 1551.9 1091.6" stroke="#f4ec33"/>
<path d="M1593.7 1096.5C1604.3 1098.3 1639 1104 1657.1 1107.1C1675.3 1110.2 1692.1 1113.2 1702.8 1115C1713.5 1116.7 1714.2 1116.7 1721.3 1117.6C1728.3 1118.5 1741.2 1120 1745.2 1120.5" stroke="#f4ec33"/>
<path d="M994.3 986.1C994.4 988.7 994.8 996.5 995.2 1001.6C995.6 1006.7 996 1011.7 996.6 1016.7C997.2 1021.8 998 1026.7 998.8 1031.7C999.6 1036.6 1000.5 1041.5 1001.6 1046.4C1002.6 1051.3 1003.9 1056.6 1005.1 1061.1C1006.4 1065.6 1007.8 1070.1 1008.8 1073.5C1009.9 1076.8 1010.7 1079 1011.5 1081.3C1012.3 1083.6 1012.7 1084.5 1013.7 1087C1014.8 1089.5 1016.8 1093.8 1018 1096.2C1019.2 1098.6 1019.9 1099.7 1021 1101.5C1022 1103.2 1023.1 1104.9 1024.2 1106.6C1025.4 1108.3 1026.6 1109.9 1027.8 1111.6C1029 1113.2 1030.3 1114.9 1031.6 1116.5C1032.9 1118.1 1034.2 1119.8 1035.6 1121.4C1037 1123 1038.4 1124.6 1039.9 1126.1C1041.3 1127.6 1043.1 1129.3 1044.3 1130.5C1045.6 1131.7 1046.4 1132.4 1047.5 1133.3C1048.6 1134.2 1049.7 1135 1050.8 1135.8C1051.9 1136.7 1053.1 1137.5 1054.3 1138.2C1055.5 1139 1056.7 1139.7 1058 1140.4C1059.2 1141 1059.8 1141.4 1061.8 1142.3C1063.7 1143.2 1066.7 1144.5 1069.7 1145.6C1072.7 1146.7 1076.8 1148 1079.9 1148.9C1083 1149.8 1085.5 1150.4 1088.3 1151C1091.1 1151.6 1094 1152.1 1096.8 1152.6C1099.5 1153 1102 1153.3 1105.1 1153.6C1108.2 1153.9 1111.6 1154.2 1115.4 1154.4C1119.2 1154.6 1123.6 1154.7 1127.8 1154.8C1131.9 1154.9 1136 1154.9 1140.1 1154.8C1144.2 1154.8 1148.3 1154.6 1152.5 1154.4C1156.6 1154.2 1159.3 1154.1 1164.8 1153.7C1170.3 1153.2 1178.2 1152.5 1185.4 1151.7C1192.7 1150.9 1201.6 1149.6 1208.1 1148.7C1214.6 1147.8 1210.5 1148.5 1224.5 1146.2C1238.6 1143.8 1275.7 1137.5 1292.6 1134.8C1309.5 1132.2 1318 1131.2 1325.9 1130.1C1333.9 1129 1335.8 1128.9 1340.2 1128.4C1344.7 1127.9 1348.1 1127.6 1352.7 1127.2C1357.3 1126.8 1362.7 1126.5 1367.8 1126.2C1372.8 1125.9 1377.6 1125.6 1383 1125.4C1388.4 1125.2 1394.1 1125.1 1400 1125C1406 1124.9 1412.5 1124.9 1418.7 1124.9C1424.8 1124.9 1430.8 1125 1436.8 1125.2C1442.9 1125.4 1449.7 1125.7 1455.2 1126C1460.7 1126.2 1464.9 1126.5 1469.7 1126.9C1474.6 1127.3 1479.5 1127.7 1484.3 1128.2C1489.1 1128.7 1492.5 1129.1 1498.7 1129.8C1504.9 1130.6 1517.6 1132.2 1521.4 1132.7" stroke="#f6f530"/>
<path d="M1589.2 1144C1601.2 1146.4 1635.1 1153.1 1661.1 1158.7C1687.1 1164.2 1731.2 1174.2 1745.2 1177.3" stroke="#f6f530"/>
</g>
<g class="clab" font-family="'Liberation Sans', Arial, Helvetica, sans-serif" font-size="22" fill="#000" stroke="#000" stroke-width="0.35" text-anchor="middle">
<text transform="translate(1033 818.7) rotate(-25) scale(1.1 1.1)" dy="0.36em">-7</text>
<text transform="translate(1043.1 828.9) rotate(-7) scale(1.1 1.1)" dy="0.36em">-8</text>
<text transform="translate(1083.7 846.4) rotate(15) scale(1.1 1.1)" dy="0.36em">-9</text>
<text transform="translate(1079.2 861.6) rotate(25) scale(1.1 1.1)" dy="0.36em">-10</text>
<text transform="translate(1060.6 884) rotate(40) scale(1.1 1.1)" dy="0.36em">-13</text>
<text transform="translate(1046.8 901.2) rotate(50) scale(1.1 1.1)" dy="0.36em">-16</text>
<text transform="translate(1031.8 919.8) rotate(66) scale(1.1 1.1)" dy="0.36em">-20</text>
<text transform="translate(1164.8 787.9) rotate(3) scale(1.1 1.1)" dy="0.36em">-9</text>
<text transform="translate(1205.9 822.1) rotate(-12) scale(1.1 1.1)" dy="0.36em">-8</text>
<text transform="translate(1285.5 832) rotate(-15) scale(1.1 1.1)" dy="0.36em">-7</text>
<text transform="translate(1375.6 844.1) rotate(-15) scale(1.1 1.1)" dy="0.36em">-6</text>
<text transform="translate(1488 856.5) rotate(-15) scale(1.1 1.1)" dy="0.36em">-5</text>
<text transform="translate(1589 891.7) rotate(-12) scale(1.1 1.1)" dy="0.36em">-4</text>
<text transform="translate(1578.8 956.4) rotate(-3) scale(1.1 1.1)" dy="0.36em">-3</text>
<text transform="translate(1576.6 1021.1) rotate(2) scale(1.1 1.1)" dy="0.36em">-2</text>
<text transform="translate(1572.2 1095.4) rotate(10) scale(1.1 1.1)" dy="0.36em">-1</text>
<text transform="translate(1555.3 1139.5) rotate(10) scale(1.1 1.1)" dy="0.36em">-0.5</text>
</g>
<g class="plot" id="plot-d">
<rect x="993.1" y="777" width="751.6" height="551.9" fill="none" stroke="#424242" stroke-width="2"/>
<path d="M1068.3 777v6.5M1068.3 1328.9v-6.5M993.1 832.2h6.5M1744.7 832.2h-6.5M1143.4 777v6.5M1143.4 1328.9v-6.5M993.1 887.4h6.5M1744.7 887.4h-6.5M1218.6 777v6.5M1218.6 1328.9v-6.5M993.1 942.6h6.5M1744.7 942.6h-6.5M1293.7 777v6.5M1293.7 1328.9v-6.5M993.1 997.8h6.5M1744.7 997.8h-6.5M1368.9 777v6.5M1368.9 1328.9v-6.5M993.1 1053h6.5M1744.7 1053h-6.5M1444.1 777v6.5M1444.1 1328.9v-6.5M993.1 1108.1h6.5M1744.7 1108.1h-6.5M1519.2 777v6.5M1519.2 1328.9v-6.5M993.1 1163.3h6.5M1744.7 1163.3h-6.5M1594.4 777v6.5M1594.4 1328.9v-6.5M993.1 1218.5h6.5M1744.7 1218.5h-6.5M1669.5 777v6.5M1669.5 1328.9v-6.5M993.1 1273.7h6.5M1744.7 1273.7h-6.5" stroke="#424242" stroke-width="1.6" fill="none"/>
<g class="tick" font-family="'Liberation Sans', Arial, Helvetica, sans-serif" font-size="23" fill="#333333" stroke="#333333" stroke-width="0.45">
<text transform="translate(993.1 759.5) scale(1.1 1.1)" text-anchor="middle">0</text>
<text transform="translate(1068.3 759.5) scale(1.1 1.1)" text-anchor="middle">10</text>
<text transform="translate(1143.4 759.5) scale(1.1 1.1)" text-anchor="middle">20</text>
<text transform="translate(1218.6 759.5) scale(1.1 1.1)" text-anchor="middle">30</text>
<text transform="translate(1293.7 759.5) scale(1.1 1.1)" text-anchor="middle">40</text>
<text transform="translate(1368.9 759.5) scale(1.1 1.1)" text-anchor="middle">50</text>
<text transform="translate(1444.1 759.5) scale(1.1 1.1)" text-anchor="middle">60</text>
<text transform="translate(1519.2 759.5) scale(1.1 1.1)" text-anchor="middle">70</text>
<text transform="translate(1594.4 759.5) scale(1.1 1.1)" text-anchor="middle">80</text>
<text transform="translate(1669.5 759.5) scale(1.1 1.1)" text-anchor="middle">90</text>
<text transform="translate(1744.7 759.5) scale(1.1 1.1)" text-anchor="middle">100</text>
<text transform="translate(982.2 786) scale(1.1 1.1)" text-anchor="end">0</text>
<text transform="translate(982.2 841.2) scale(1.1 1.1)" text-anchor="end">10</text>
<text transform="translate(982.2 896.4) scale(1.1 1.1)" text-anchor="end">20</text>
<text transform="translate(982.2 951.6) scale(1.1 1.1)" text-anchor="end">30</text>
<text transform="translate(982.2 1006.8) scale(1.1 1.1)" text-anchor="end">40</text>
<text transform="translate(982.2 1062) scale(1.1 1.1)" text-anchor="end">50</text>
<text transform="translate(982.2 1117.2) scale(1.1 1.1)" text-anchor="end">60</text>
<text transform="translate(982.2 1172.3) scale(1.1 1.1)" text-anchor="end">70</text>
<text transform="translate(982.2 1227.5) scale(1.1 1.1)" text-anchor="end">80</text>
<text transform="translate(982.2 1282.7) scale(1.1 1.1)" text-anchor="end">90</text>
<text transform="translate(982.2 1337.9) scale(1.1 1.1)" text-anchor="end">100</text>
</g>
<text class="ttl" transform="translate(1100.7 724.8) scale(1.1 1.1)" font-family="'Liberation Serif', 'Times New Roman', serif" font-size="29.8" fill="#2a2a2a" stroke="#2a2a2a" stroke-width="0.25" textLength="488.9" lengthAdjust="spacingAndGlyphs">Horizontal distance from the envelope/m</text>
<text class="ylab" transform="translate(920 1053) rotate(-90) scale(1.1 1.1)" text-anchor="middle" font-family="'Liberation Serif', 'Times New Roman', serif" font-size="29.8" fill="#2a2a2a" stroke="#2a2a2a" stroke-width="0.25" textLength="104.1" lengthAdjust="spacingAndGlyphs">Depth/m</text>
<text class="cap" x="1158" y="1394" font-family="'Liberation Serif', 'Times New Roman', serif" font-size="38.3" fill="#000" textLength="466" lengthAdjust="spacingAndGlyphs">(d) Kick-in deformation mode</text>
</g>
</svg></body></html>
